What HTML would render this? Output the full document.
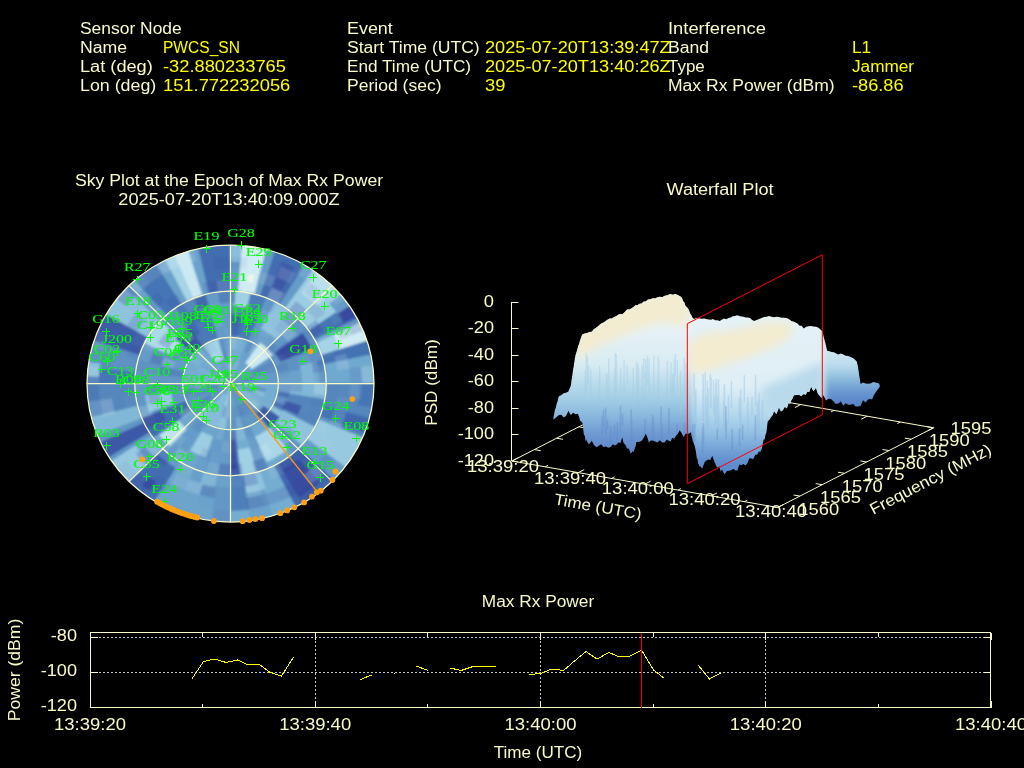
<!DOCTYPE html>
<html><head><meta charset="utf-8"><title>Interference Event</title>
<style>
html,body{margin:0;padding:0;background:#000;width:1024px;height:768px;overflow:hidden}
svg{display:block;opacity:0.999}
.t{font-family:"Liberation Sans",sans-serif;font-size:16px}
.s{font-family:"Liberation Serif",serif;font-size:13.5px}
</style></head><body>
<svg width="1024" height="768" viewBox="0 0 1024 768">
<defs>
<linearGradient id="gvL" gradientUnits="userSpaceOnUse" x1="0" y1="295" x2="0" y2="455">
<stop offset="0" stop-color="#e8f3f6"/><stop offset="0.22" stop-color="#e6f2f6"/><stop offset="0.44" stop-color="#d8ebf3"/><stop offset="0.56" stop-color="#b8daea"/><stop offset="0.66" stop-color="#a0cce4"/><stop offset="0.77" stop-color="#86b4dc"/><stop offset="0.86" stop-color="#6f9bd2"/><stop offset="0.96" stop-color="#6088ca"/>
</linearGradient>
<linearGradient id="gvM" gradientUnits="userSpaceOnUse" x1="0" y1="315" x2="0" y2="470">
<stop offset="0" stop-color="#e4f1f6"/><stop offset="0.45" stop-color="#e0eff6"/><stop offset="0.535" stop-color="#cfe6f2"/><stop offset="0.64" stop-color="#b4d8ec"/><stop offset="0.735" stop-color="#9ac6e5"/><stop offset="0.825" stop-color="#80aedb"/><stop offset="0.905" stop-color="#6a98d2"/><stop offset="0.99" stop-color="#5a88ca"/>
</linearGradient>
<linearGradient id="gvR" gradientUnits="userSpaceOnUse" x1="0" y1="350" x2="0" y2="402">
<stop offset="0" stop-color="#cfe6f1"/><stop offset="0.3" stop-color="#bcdcec"/><stop offset="0.55" stop-color="#8cbcdc"/><stop offset="0.8" stop-color="#6b98d0"/><stop offset="1" stop-color="#5a84c8"/>
</linearGradient>
<filter id="b1" x="-5%" y="-5%" width="110%" height="110%"><feGaussianBlur stdDeviation="1.1"/></filter>
<filter id="b4" x="-20%" y="-20%" width="140%" height="140%"><feGaussianBlur stdDeviation="4"/></filter>
<filter id="b6" x="-20%" y="-20%" width="140%" height="140%"><feGaussianBlur stdDeviation="3"/></filter>
</defs>
<text class="t" x="80.0" y="34.0" text-anchor="start" fill="#fafac8" textLength="101.7" lengthAdjust="spacingAndGlyphs">Sensor Node</text>
<text class="t" x="80.0" y="53.0" text-anchor="start" fill="#fafac8" textLength="47.2" lengthAdjust="spacingAndGlyphs">Name</text>
<text class="t" x="163.0" y="53.0" text-anchor="start" fill="#ffff00" textLength="76.9" lengthAdjust="spacingAndGlyphs">PWCS_SN</text>
<text class="t" x="80.0" y="72.0" text-anchor="start" fill="#fafac8" textLength="72.8" lengthAdjust="spacingAndGlyphs">Lat (deg)</text>
<text class="t" x="163.0" y="72.0" text-anchor="start" fill="#ffff00" textLength="122.9" lengthAdjust="spacingAndGlyphs">-32.880233765</text>
<text class="t" x="80.0" y="91.0" text-anchor="start" fill="#fafac8" textLength="76.3" lengthAdjust="spacingAndGlyphs">Lon (deg)</text>
<text class="t" x="163.0" y="91.0" text-anchor="start" fill="#ffff00" textLength="127.3" lengthAdjust="spacingAndGlyphs">151.772232056</text>
<text class="t" x="347.0" y="34.0" text-anchor="start" fill="#fafac8" textLength="45.8" lengthAdjust="spacingAndGlyphs">Event</text>
<text class="t" x="347.0" y="53.0" text-anchor="start" fill="#fafac8" textLength="132.7" lengthAdjust="spacingAndGlyphs">Start Time (UTC)</text>
<text class="t" x="485.0" y="53.0" text-anchor="start" fill="#ffff00" textLength="185.7" lengthAdjust="spacingAndGlyphs">2025-07-20T13:39:47Z</text>
<text class="t" x="347.0" y="72.0" text-anchor="start" fill="#fafac8" textLength="124.0" lengthAdjust="spacingAndGlyphs">End Time (UTC)</text>
<text class="t" x="485.0" y="72.0" text-anchor="start" fill="#ffff00" textLength="185.7" lengthAdjust="spacingAndGlyphs">2025-07-20T13:40:26Z</text>
<text class="t" x="347.0" y="91.0" text-anchor="start" fill="#fafac8" textLength="94.5" lengthAdjust="spacingAndGlyphs">Period (sec)</text>
<text class="t" x="485.0" y="91.0" text-anchor="start" fill="#ffff00" textLength="20.4" lengthAdjust="spacingAndGlyphs">39</text>
<text class="t" x="668.0" y="34.0" text-anchor="start" fill="#fafac8" textLength="97.9" lengthAdjust="spacingAndGlyphs">Interference</text>
<text class="t" x="668.0" y="53.0" text-anchor="start" fill="#fafac8" textLength="41.1" lengthAdjust="spacingAndGlyphs">Band</text>
<text class="t" x="852.0" y="53.0" text-anchor="start" fill="#ffff00" textLength="19.1" lengthAdjust="spacingAndGlyphs">L1</text>
<text class="t" x="668.0" y="72.0" text-anchor="start" fill="#fafac8" textLength="36.8" lengthAdjust="spacingAndGlyphs">Type</text>
<text class="t" x="852.0" y="72.0" text-anchor="start" fill="#ffff00" textLength="62.1" lengthAdjust="spacingAndGlyphs">Jammer</text>
<text class="t" x="668.0" y="91.0" text-anchor="start" fill="#fafac8" textLength="166.6" lengthAdjust="spacingAndGlyphs">Max Rx Power (dBm)</text>
<text class="t" x="852.0" y="91.0" text-anchor="start" fill="#ffff00" textLength="51.6" lengthAdjust="spacingAndGlyphs">-86.86</text>
<clipPath id="skc"><ellipse cx="230.5" cy="383.5" rx="143.5" ry="138.5"/></clipPath>
<g clip-path="url(#skc)">
<rect x="79.0" y="237.0" width="303.0" height="293.0" fill="#659bc8"/>
<g filter="url(#b1)">
<path fill="#659bc8" d="M230.5,242.2L242.0,242.7L238.0,291.4L230.5,291.1Z"/>
<path fill="#cfebf3" d="M242.0,242.7L254.7,244.2L267.1,246.7L254.5,294.1L246.3,292.4L238.0,291.4Z"/>
<path fill="#659bc8" d="M267.1,246.7L275.7,249.1L260.1,295.6L254.5,294.1Z"/>
<path fill="#436db0" d="M275.7,249.1L286.1,252.8L296.2,257.3L305.9,262.4L279.8,304.3L273.5,300.9L266.9,298.0L260.1,295.6Z"/>
<path fill="#659bc8" d="M305.9,262.4L314.5,267.8L285.4,307.8L279.8,304.3Z"/>
<path fill="#9ccde2" d="M314.5,267.8L322.6,273.7L330.3,280.2L337.5,287.2L344.3,294.6L350.4,302.5L308.9,330.5L304.9,325.4L300.5,320.5L295.8,315.9L290.7,311.7L285.4,307.8Z"/>
<path fill="#4575b4" d="M350.4,302.5L359.7,317.2L315.0,340.1L308.9,330.5Z"/>
<path fill="#74add1" d="M359.7,317.2L362.1,321.6L316.5,343.0L315.0,340.1Z"/>
<path fill="#a4d4e6" d="M362.1,321.6L366.2,330.6L369.7,339.8L321.5,355.0L319.2,348.9L316.5,343.0Z"/>
<path fill="#4472b3" d="M369.7,339.8L373.7,354.1L324.1,364.3L321.5,355.0Z"/>
<path fill="#70a9cf" d="M373.7,354.1L375.4,363.8L376.5,373.6L376.9,383.5L326.2,383.5L326.0,377.1L325.3,370.6L324.1,364.3Z"/>
<path fill="#5487bd" d="M376.9,383.5L376.4,395.0L374.9,406.4L372.5,417.7L323.4,405.8L324.9,398.5L325.9,391.0L326.2,383.5Z"/>
<path fill="#4575b4" d="M372.5,417.7L367.1,434.1L319.9,416.6L323.4,405.8Z"/>
<path fill="#6197c5" d="M367.1,434.1L365.2,438.7L318.6,419.6L319.9,416.6Z"/>
<path fill="#97c9e0" d="M365.2,438.7L360.1,449.1L354.2,459.1L347.4,468.5L306.9,439.1L311.4,432.9L315.3,426.4L318.6,419.6Z"/>
<path fill="#659bc8" d="M347.4,468.5L335.8,481.6L299.4,447.7L306.9,439.1Z"/>
<path fill="#4168ae" d="M335.8,481.6L327.0,489.7L317.6,497.1L307.5,503.6L297.0,509.4L274.0,465.8L280.9,462.1L287.4,457.8L293.6,453.0L299.4,447.7Z"/>
<path fill="#74add1" d="M297.0,509.4L285.3,514.5L273.3,518.6L258.5,471.8L266.4,469.2L274.0,465.8Z"/>
<path fill="#6ba2cb" d="M273.3,518.6L262.2,521.4L250.9,523.4L243.8,475.0L251.2,473.7L258.5,471.8Z"/>
<path fill="#4e80ba" d="M250.9,523.4L240.7,524.4L230.5,524.8L230.5,475.9L237.2,475.7L243.8,475.0Z"/>
<path fill="#6ba2cb" d="M230.5,524.8L217.7,524.2L205.1,522.6L192.6,520.0L205.7,472.7L213.9,474.5L222.2,475.5L230.5,475.9Z"/>
<path fill="#6ca4cc" d="M192.6,520.0L182.2,516.9L172.1,513.1L162.3,508.5L152.9,503.3L179.8,461.8L185.9,465.3L192.3,468.2L198.9,470.7L205.7,472.7Z"/>
<path fill="#659bc8" d="M152.9,503.3L143.8,497.3L135.1,490.7L127.0,483.4L162.8,448.8L168.1,453.6L173.8,457.9L179.8,461.8Z"/>
<path fill="#74add1" d="M127.0,483.4L117.6,473.4L109.2,462.5L151.1,435.2L156.6,442.3L162.8,448.8Z"/>
<path fill="#6197c5" d="M109.2,462.5L106.4,458.4L149.3,432.5L151.1,435.2Z"/>
<path fill="#3c59a6" d="M106.4,458.4L97.8,443.2L143.8,422.5L149.3,432.5Z"/>
<path fill="#6197c5" d="M97.8,443.2L94.8,436.4L141.8,418.1L143.8,422.5Z"/>
<path fill="#81b8d7" d="M94.8,436.4L91.3,427.2L88.5,417.7L137.6,405.8L139.5,412.0L141.8,418.1Z"/>
<path fill="#5487bd" d="M88.5,417.7L86.1,406.4L84.6,395.0L84.1,383.5L134.8,383.5L135.1,391.0L136.1,398.5L137.6,405.8Z"/>
<path fill="#4575b4" d="M84.1,383.5L85.2,366.3L135.5,372.2L134.8,383.5Z"/>
<path fill="#5d92c3" d="M85.2,366.3L87.6,352.9L91.3,339.8L139.5,355.0L137.1,363.5L135.5,372.2Z"/>
<path fill="#3d5ca8" d="M91.3,339.8L94.8,330.6L98.9,321.6L103.7,312.9L147.6,337.3L144.5,343.0L141.8,348.9L139.5,355.0Z"/>
<path fill="#8ec2dd" d="M103.7,312.9L109.6,303.8L116.2,295.2L123.5,287.2L160.5,320.5L155.8,325.8L151.5,331.4L147.6,337.3Z"/>
<path fill="#6ba2cb" d="M123.5,287.2L132.6,278.5L166.5,314.8L160.5,320.5Z"/>
<path fill="#4575b4" d="M132.6,278.5L143.4,269.9L155.1,262.4L181.2,304.3L173.6,309.2L166.5,314.8Z"/>
<path fill="#6ba2cb" d="M155.1,262.4L164.0,257.6L187.0,301.2L181.2,304.3Z"/>
<path fill="#a4d4e6" d="M164.0,257.6L173.3,253.5L193.1,298.5L187.0,301.2Z"/>
<path fill="#cbe9f2" d="M173.3,253.5L187.7,248.4L202.5,295.2L193.1,298.5Z"/>
<path fill="#6ba2cb" d="M187.7,248.4L197.6,245.9L209.0,293.5L202.5,295.2Z"/>
<path fill="#436db0" d="M197.6,245.9L208.4,243.8L219.4,242.6L230.5,242.2L230.5,291.1L223.3,291.4L216.1,292.2L209.0,293.5Z"/>
<path fill="#8abfdb" d="M230.5,242.2L242.0,242.7L240.4,262.0L230.5,261.6Z"/>
<path fill="#3d5ca8" d="M281.6,261.5L294.5,267.3L281.0,291.8L270.8,287.2Z"/>
<path fill="#bae0ed" d="M318.6,270.7L328.4,278.5L337.5,287.2L316.6,306.0L309.2,299.1L301.3,292.8Z"/>
<path fill="#659bc8" d="M342.6,292.7L351.8,304.5L337.6,313.8L329.4,303.4Z"/>
<path fill="#374a9f" d="M351.8,304.5L358.5,315.0L343.5,323.1L337.6,313.8Z"/>
<path fill="#cfebf3" d="M362.1,321.6L366.2,330.6L369.7,339.8L339.7,349.3L336.9,342.0L333.7,334.9Z"/>
<path fill="#eaf7e6" d="M248.5,274.1L254.4,275.1L252.6,283.2L247.1,282.3Z"/>
<path fill="#4575b4" d="M376.9,383.5L376.3,395.8L374.6,408.0L357.7,405.1L359.2,394.4L359.6,383.5Z"/>
<path fill="#394fa1" d="M319.9,482.8L309.7,490.6L298.7,497.4L282.2,469.9L290.5,464.7L298.3,458.8Z"/>
<path fill="#8ec2dd" d="M266.0,488.9L256.3,491.5L246.5,493.2L243.8,475.0L252.0,473.5L260.1,471.4Z"/>
<path fill="#74add1" d="M250.9,523.4L240.7,524.4L230.5,524.8L230.5,510.9L239.7,510.6L248.9,509.7Z"/>
<path fill="#8abfdb" d="M215.3,487.7L207.8,486.5L200.4,484.7L204.1,472.3L210.6,473.9L217.2,475.0Z"/>
<path fill="#436db0" d="M152.9,503.3L143.8,497.3L135.1,490.7L127.0,483.4L157.4,454.0L163.2,459.1L169.3,463.8L175.7,468.1Z"/>
<path fill="#394fa1" d="M149.5,491.1L141.9,485.4L149.3,476.9L156.3,482.1Z"/>
<path fill="#97c9e0" d="M127.0,483.4L117.6,473.4L109.2,462.5L135.3,445.5L141.9,454.0L149.3,461.8Z"/>
<path fill="#8abfdb" d="M84.3,376.1L85.9,361.4L100.1,363.6L98.7,376.8Z"/>
<path fill="#5a8ec1" d="M230.5,291.1L237.2,291.3L243.8,292.0L250.4,293.1L240.4,338.4L237.2,337.8L233.8,337.5L230.5,337.4Z"/>
<path fill="#4b7cb7" d="M250.4,293.1L258.5,295.2L266.4,297.8L248.4,340.7L244.5,339.4L240.4,338.4Z"/>
<path fill="#659bc8" d="M266.4,297.8L275.4,301.9L252.9,342.8L248.4,340.7Z"/>
<path fill="#6ba2cb" d="M275.4,301.9L281.6,305.4L287.4,309.2L293.0,313.5L298.2,318.2L264.3,350.9L261.7,348.6L258.9,346.4L256.0,344.5L252.9,342.8Z"/>
<path fill="#6197c5" d="M298.2,318.2L303.3,323.5L307.9,329.2L269.2,356.4L266.8,353.5L264.3,350.9Z"/>
<path fill="#5d92c3" d="M307.9,329.2L311.7,334.5L315.0,340.1L317.9,345.9L274.2,364.7L272.7,361.8L271.0,359.1L269.2,356.4Z"/>
<path fill="#5d92c3" d="M317.9,345.9L320.4,351.9L322.5,358.0L324.1,364.3L277.2,373.9L276.4,370.8L275.4,367.7L274.2,364.7Z"/>
<path fill="#6ba2cb" d="M324.1,364.3L325.3,370.6L326.0,377.1L326.2,383.5L278.3,383.5L278.2,380.3L277.8,377.1L277.2,373.9Z"/>
<path fill="#81b8d7" d="M326.2,383.5L325.9,391.6L324.8,399.5L277.6,391.5L278.1,387.5L278.3,383.5Z"/>
<path fill="#5285bc" d="M324.8,399.5L323.2,406.6L321.0,413.6L318.3,420.3L315.0,426.9L272.7,405.2L274.3,401.9L275.7,398.5L276.8,395.0L277.6,391.5Z"/>
<path fill="#8ec2dd" d="M315.0,426.9L311.1,433.4L306.6,439.5L301.6,445.3L266.0,414.4L268.5,411.5L270.7,408.4L272.7,405.2Z"/>
<path fill="#6197c5" d="M301.6,445.3L297.0,450.0L292.0,454.3L261.2,418.8L263.7,416.7L266.0,414.4Z"/>
<path fill="#70a9cf" d="M292.0,454.3L286.8,458.2L281.2,461.8L275.4,465.1L269.4,467.9L249.9,425.6L252.9,424.2L255.8,422.6L258.6,420.8L261.2,418.8Z"/>
<path fill="#6197c5" d="M269.4,467.9L263.2,470.3L256.9,472.3L243.7,427.8L246.8,426.8L249.9,425.6Z"/>
<path fill="#74add1" d="M256.9,472.3L248.8,474.2L240.5,475.4L235.5,429.4L239.6,428.8L243.7,427.8Z"/>
<path fill="#4168ae" d="M240.5,475.4L230.5,475.9L230.5,429.6L235.5,429.4Z"/>
<path fill="#659bc8" d="M230.5,475.9L223.8,475.7L217.2,475.0L210.6,473.9L204.1,472.3L217.3,427.8L220.6,428.6L223.8,429.2L227.2,429.5L230.5,429.6Z"/>
<path fill="#6ca4cc" d="M204.1,472.3L197.8,470.3L191.6,467.9L185.6,465.1L179.8,461.8L205.2,422.6L208.1,424.2L211.1,425.6L214.2,426.8L217.3,427.8Z"/>
<path fill="#659bc8" d="M179.8,461.8L172.9,457.3L166.5,452.2L198.5,417.8L201.7,420.3L205.2,422.6Z"/>
<path fill="#70a9cf" d="M166.5,452.2L161.6,447.7L157.2,442.9L153.1,437.8L191.8,410.6L193.9,413.1L196.1,415.5L198.5,417.8Z"/>
<path fill="#436db0" d="M153.1,437.8L148.7,431.5L145.0,425.0L141.8,418.1L186.2,400.8L187.8,404.2L189.7,407.5L191.8,410.6Z"/>
<path fill="#6197c5" d="M141.8,418.1L139.1,411.0L137.1,403.8L135.7,396.4L183.2,389.9L183.9,393.6L184.9,397.2L186.2,400.8Z"/>
<path fill="#6197c5" d="M135.7,396.4L135.0,389.0L134.8,381.6L135.3,374.2L136.4,366.8L138.0,359.6L184.3,371.6L183.5,375.2L183.0,378.8L182.7,382.5L182.8,386.2L183.2,389.9Z"/>
<path fill="#659bc8" d="M138.0,359.6L140.1,353.2L142.6,346.9L145.6,340.8L149.0,335.0L152.9,329.4L157.2,324.1L193.9,353.9L191.8,356.5L189.8,359.3L188.1,362.2L186.6,365.2L185.4,368.4L184.3,371.6Z"/>
<path fill="#6197c5" d="M157.2,324.1L162.8,318.2L169.0,312.7L175.6,307.8L203.1,345.7L199.8,348.2L196.7,350.9L193.9,353.9Z"/>
<path fill="#4979b6" d="M175.6,307.8L181.2,304.3L187.0,301.2L193.1,298.5L199.3,296.2L205.7,294.3L218.1,339.0L214.9,339.9L211.8,341.0L208.8,342.4L205.9,344.0L203.1,345.7Z"/>
<path fill="#659bc8" d="M205.7,294.3L213.9,292.5L222.2,291.5L230.5,291.1L230.5,337.4L226.3,337.6L222.2,338.1L218.1,339.0Z"/>
<path fill="#4575b4" d="M230.5,305.9L236.1,306.1L241.7,306.7L247.2,307.6L240.9,336.1L237.5,335.5L234.0,335.1L230.5,335.0Z"/>
<path fill="#a0d0e4" d="M235.5,291.2L243.0,291.9L250.4,293.1L247.2,307.6L241.0,306.6L234.7,306.0Z"/>
<path fill="#8ec2dd" d="M275.4,301.9L281.6,305.4L287.4,309.2L293.0,313.5L298.2,318.2L276.2,339.4L272.7,336.3L268.9,333.4L265.0,330.8L260.8,328.5Z"/>
<path fill="#394fa1" d="M302.5,333.0L306.0,338.0L309.1,343.2L311.8,348.6L280.3,362.1L278.6,358.8L276.7,355.6L274.6,352.6Z"/>
<path fill="#7fb6d6" d="M316.4,361.3L318.1,368.6L319.1,376.0L319.5,383.5L302.2,383.5L302.0,377.5L301.2,371.5L299.8,365.6Z"/>
<path fill="#3c59a6" d="M301.5,405.8L299.7,410.5L297.6,415.1L282.1,407.8L283.7,404.3L285.1,400.6Z"/>
<path fill="#abd9e9" d="M144.5,343.0L147.8,337.0L151.6,331.2L155.9,325.7L160.5,320.5L183.3,341.0L180.1,344.5L177.3,348.2L174.7,352.1L172.5,356.2Z"/>
<path fill="#a9d7e8" d="M287.7,449.3L282.8,453.0L277.6,456.3L272.3,459.3L266.7,461.9L255.0,436.6L258.8,434.9L262.4,432.8L265.9,430.6L269.2,428.1Z"/>
<path fill="#a0d0e4" d="M256.9,472.3L248.8,474.2L240.5,475.4L237.7,449.6L243.6,448.8L249.5,447.4Z"/>
<path fill="#394fa1" d="M236.7,469.2L230.5,469.4L230.5,438.9L234.5,438.8Z"/>
<path fill="#9ccde2" d="M205.7,457.3L200.4,455.4L195.3,453.2L190.3,450.7L201.8,431.5L205.3,433.3L209.0,434.9L212.8,436.2Z"/>
<path fill="#c0e3ef" d="M169.8,446.3L164.4,441.0L159.4,435.2L178.9,421.0L182.5,425.2L186.5,429.1Z"/>
<path fill="#3b54a4" d="M147.6,429.7L144.5,424.0L141.8,418.1L161.3,410.5L163.4,415.1L165.9,419.5Z"/>
<path fill="#97c9e0" d="M149.6,411.9L147.7,406.4L146.3,400.8L145.2,395.1L170.8,391.6L171.5,395.6L172.6,399.5L173.9,403.4Z"/>
<path fill="#3d5ca8" d="M175.5,339.0L179.8,334.5L184.4,330.5L189.3,326.8L203.1,345.7L199.8,348.2L196.7,350.9L193.9,353.9Z"/>
<path fill="#6ba2cb" d="M230.5,337.4L233.8,337.5L237.2,337.8L240.4,338.4L243.7,339.2L246.8,340.2L249.9,341.4L252.9,342.8L255.8,344.4L258.6,346.2L261.2,348.2L263.7,350.3L266.0,352.6L268.2,355.1L270.1,357.7L271.9,360.4L273.4,363.3L274.8,366.2L275.9,369.2L276.9,372.3L277.6,375.5L278.0,378.7L278.3,381.9L278.3,385.1L278.0,388.3L277.6,391.5L276.9,394.7L275.9,397.8L274.8,400.8L273.4,403.7L271.9,406.6L270.1,409.3L268.2,411.9L266.0,414.4L263.7,416.7L261.2,418.8L258.6,420.8L255.8,422.6L252.9,424.2L249.9,425.6L246.8,426.8L243.7,427.8L240.4,428.6L237.2,429.2L233.8,429.5L230.5,429.6L227.2,429.5L223.8,429.2L220.6,428.6L217.3,427.8L214.2,426.8L211.1,425.6L208.1,424.2L205.2,422.6L202.4,420.8L199.8,418.8L197.3,416.7L195.0,414.4L192.8,411.9L190.9,409.3L189.1,406.6L187.6,403.7L186.2,400.8L185.1,397.8L184.1,394.7L183.4,391.5L183.0,388.3L182.7,385.1L182.7,381.9L183.0,378.7L183.4,375.5L184.1,372.3L185.1,369.2L186.2,366.2L187.6,363.3L189.1,360.4L190.9,357.7L192.8,355.1L195.0,352.6L197.3,350.3L199.8,348.2L202.4,346.2L205.2,344.4L208.1,342.8L211.1,341.4L214.2,340.2L217.3,339.2L220.6,338.4L223.8,337.8L227.2,337.5L230.5,337.4L230.5,383.5Z"/>
<path fill="#74add1" d="M230.5,337.4L233.8,337.5L237.2,337.8L240.4,338.4L243.7,339.2L246.8,340.2L230.5,383.5Z"/>
<path fill="#659bc8" d="M269.6,357.0L271.6,360.0L273.4,363.1L274.8,366.3L276.1,369.6L277.0,373.0L277.7,376.5L278.1,380.0L278.3,383.5L230.5,383.5Z"/>
<path fill="#74add1" d="M278.3,383.5L278.2,386.8L277.8,390.1L277.2,393.3L276.3,396.5L275.3,399.6L274.0,402.7L272.4,405.6L270.7,408.4L268.8,411.1L266.6,413.7L264.3,416.1L230.5,383.5Z"/>
<path fill="#6197c5" d="M261.2,418.8L258.3,421.0L255.3,422.9L252.1,424.6L248.8,426.1L245.4,427.3L241.9,428.3L238.3,429.0L234.7,429.4L230.5,383.5Z"/>
<path fill="#86bbd9" d="M226.3,429.4L223.0,429.1L219.8,428.4L216.5,427.6L213.4,426.6L210.3,425.3L207.3,423.8L204.5,422.2L201.7,420.3L199.1,418.3L196.7,416.1L230.5,383.5Z"/>
<path fill="#6197c5" d="M196.7,416.1L194.4,413.7L192.2,411.1L190.3,408.4L188.6,405.6L187.0,402.7L185.7,399.6L184.7,396.5L183.8,393.3L183.2,390.1L182.8,386.8L182.7,383.5L230.5,383.5Z"/>
<path fill="#74add1" d="M182.7,383.5L182.8,380.1L183.2,376.8L183.8,373.5L184.7,370.3L185.8,367.1L187.2,364.0L188.8,361.0L190.6,358.2L192.6,355.4L194.8,352.8L197.2,350.4L199.8,348.2L230.5,383.5Z"/>
<path fill="#cbe9f2" d="M260.1,342.7L263.0,344.8L265.7,347.0L268.3,349.5L270.6,352.1L272.8,354.9L251.7,369.2L250.6,367.8L249.4,366.5L248.1,365.3L246.8,364.1L245.3,363.1Z"/>
<path fill="#3d5ca8" d="M279.9,416.9L276.7,420.9L273.1,424.6L269.2,428.1L256.3,413.2L258.9,410.9L261.3,408.4L263.4,405.7Z"/>
<path fill="#a4d4e6" d="M203.1,345.7L205.9,344.0L208.8,342.4L211.8,341.0L214.9,339.9L218.1,339.0L223.8,359.4L222.1,359.9L220.4,360.6L218.8,361.3L217.2,362.1L215.7,363.1Z"/>
<path fill="#2f3a98" fill-opacity="0.01" d="M230.5,383.5L232.1,372.1L232.8,372.2L233.6,372.4L230.5,383.5L230.5,383.5Z"/>
<path fill="#dff2f8" fill-opacity="0.02" d="M230.5,383.5L236.5,373.5L237.1,373.9L237.8,374.3L230.5,383.5L230.5,383.5Z"/>
<path fill="#2f3a98" fill-opacity="0.05" d="M230.5,383.5L239.0,375.3L239.5,375.9L240.0,376.5L230.5,383.5L230.5,383.5Z"/>
<path fill="#2f3a98" fill-opacity="0.16" d="M230.5,383.5L242.1,380.5L242.2,381.2L242.4,382.0L230.5,383.5L230.5,383.5Z"/>
<path fill="#2f3a98" fill-opacity="0.26" d="M230.5,383.5L242.5,383.5L242.4,384.3L242.4,385.0L230.5,383.5L230.5,383.5Z"/>
<path fill="#2f3a98" fill-opacity="0.06" d="M230.5,383.5L242.4,385.0L242.2,385.8L242.1,386.5L230.5,383.5L230.5,383.5Z"/>
<path fill="#2f3a98" fill-opacity="0.18" d="M230.5,383.5L232.1,394.9L231.3,395.0L230.5,395.0L230.5,383.5L230.5,383.5Z"/>
<path fill="#dff2f8" fill-opacity="0.05" d="M230.5,383.5L230.5,395.0L229.7,395.0L228.9,394.9L230.5,383.5L230.5,383.5Z"/>
<path fill="#dff2f8" fill-opacity="0.06" d="M230.5,383.5L228.9,394.9L228.2,394.8L227.4,394.6L230.5,383.5L230.5,383.5Z"/>
<path fill="#2f3a98" fill-opacity="0.27" d="M230.5,383.5L225.9,394.2L225.2,393.9L224.5,393.5L230.5,383.5L230.5,383.5Z"/>
<path fill="#2f3a98" fill-opacity="0.17" d="M230.5,383.5L224.5,393.5L223.9,393.1L223.2,392.7L230.5,383.5L230.5,383.5Z"/>
<path fill="#dff2f8" fill-opacity="0.12" d="M230.5,383.5L219.5,387.9L219.2,387.2L218.9,386.5L230.5,383.5L230.5,383.5Z"/>
<path fill="#dff2f8" fill-opacity="0.16" d="M230.5,383.5L218.9,386.5L218.8,385.8L218.6,385.0L230.5,383.5L230.5,383.5Z"/>
<path fill="#2f3a98" fill-opacity="0.24" d="M230.5,383.5L218.6,385.0L218.6,384.3L218.5,383.5L230.5,383.5L230.5,383.5Z"/>
<path fill="#dff2f8" fill-opacity="0.20" d="M230.5,383.5L218.9,380.5L219.2,379.8L219.5,379.1L230.5,383.5L230.5,383.5Z"/>
<path fill="#dff2f8" fill-opacity="0.24" d="M230.5,383.5L219.5,379.1L219.8,378.4L220.1,377.7L230.5,383.5L230.5,383.5Z"/>
<path fill="#2f3a98" fill-opacity="0.05" d="M230.5,383.5L221.0,376.5L221.5,375.9L222.0,375.3L230.5,383.5L230.5,383.5Z"/>
<path fill="#2f3a98" fill-opacity="0.25" d="M230.5,383.5L225.9,372.8L226.7,372.6L227.4,372.4L230.5,383.5L230.5,383.5Z"/>
<path fill="#dff2f8" fill-opacity="0.14" d="M233.6,372.4L236.7,361.2L238.2,361.6L239.7,362.2L235.1,372.8L234.3,372.6Z"/>
<path fill="#dff2f8" fill-opacity="0.01" d="M235.1,372.8L239.7,362.2L241.1,362.8L242.5,363.5L236.5,373.5L235.8,373.1Z"/>
<path fill="#dff2f8" fill-opacity="0.10" d="M237.8,374.3L245.1,365.2L246.3,366.1L247.4,367.2L239.0,375.3L238.4,374.8Z"/>
<path fill="#dff2f8" fill-opacity="0.05" d="M239.0,375.3L247.4,367.2L248.5,368.3L249.5,369.4L240.0,376.5L239.5,375.9Z"/>
<path fill="#2f3a98" fill-opacity="0.25" d="M242.1,380.5L253.6,377.5L254.0,379.0L254.2,380.5L242.4,382.0L242.2,381.2Z"/>
<path fill="#dff2f8" fill-opacity="0.18" d="M242.5,383.5L254.4,383.5L254.4,385.0L254.2,386.5L242.4,385.0L242.4,384.3Z"/>
<path fill="#2f3a98" fill-opacity="0.18" d="M242.1,386.5L253.6,389.5L253.1,390.9L252.6,392.3L241.5,387.9L241.8,387.2Z"/>
<path fill="#dff2f8" fill-opacity="0.24" d="M240.9,389.3L251.2,395.0L250.4,396.3L249.5,397.6L240.0,390.5L240.4,389.9Z"/>
<path fill="#dff2f8" fill-opacity="0.12" d="M239.0,391.7L247.4,399.8L246.3,400.9L245.1,401.8L237.8,392.7L238.4,392.2Z"/>
<path fill="#dff2f8" fill-opacity="0.02" d="M233.6,394.6L236.7,405.8L235.2,406.1L233.6,406.4L232.1,394.9L232.8,394.8Z"/>
<path fill="#dff2f8" fill-opacity="0.03" d="M232.1,394.9L233.6,406.4L232.1,406.5L230.5,406.6L230.5,395.0L231.3,395.0Z"/>
<path fill="#dff2f8" fill-opacity="0.23" d="M228.9,394.9L227.4,406.4L225.8,406.1L224.3,405.8L227.4,394.6L228.2,394.8Z"/>
<path fill="#2f3a98" fill-opacity="0.01" d="M227.4,394.6L224.3,405.8L222.8,405.4L221.3,404.8L225.9,394.2L226.7,394.4Z"/>
<path fill="#2f3a98" fill-opacity="0.22" d="M223.2,392.7L215.9,401.8L214.7,400.9L213.6,399.8L222.0,391.7L222.6,392.2Z"/>
<path fill="#2f3a98" fill-opacity="0.11" d="M220.1,389.3L209.8,395.0L209.0,393.7L208.4,392.3L219.5,387.9L219.8,388.6Z"/>
<path fill="#2f3a98" fill-opacity="0.24" d="M218.9,386.5L207.4,389.5L207.0,388.0L206.8,386.5L218.6,385.0L218.8,385.8Z"/>
<path fill="#dff2f8" fill-opacity="0.03" d="M218.6,385.0L206.8,386.5L206.6,385.0L206.6,383.5L218.5,383.5L218.6,384.3Z"/>
<path fill="#dff2f8" fill-opacity="0.23" d="M218.9,380.5L207.4,377.5L207.9,376.1L208.4,374.7L219.5,379.1L219.2,379.8Z"/>
<path fill="#dff2f8" fill-opacity="0.09" d="M219.5,379.1L208.4,374.7L209.0,373.3L209.8,372.0L220.1,377.7L219.8,378.4Z"/>
<path fill="#2f3a98" fill-opacity="0.16" d="M220.1,377.7L209.8,372.0L210.6,370.7L211.5,369.4L221.0,376.5L220.6,377.1Z"/>
<path fill="#dff2f8" fill-opacity="0.09" d="M223.2,374.3L215.9,365.2L217.2,364.3L218.5,363.5L224.5,373.5L223.9,373.9Z"/>
<path fill="#2f3a98" fill-opacity="0.01" d="M225.9,372.8L221.3,362.2L222.8,361.6L224.3,361.2L227.4,372.4L226.7,372.6Z"/>
<path fill="#dff2f8" fill-opacity="0.04" d="M227.4,372.4L224.3,361.2L225.8,360.9L227.4,360.6L228.9,372.1L228.2,372.2Z"/>
<path fill="#dff2f8" fill-opacity="0.20" d="M228.9,372.1L227.4,360.6L228.9,360.5L230.5,360.4L230.5,372.0L229.7,372.0Z"/>
<path fill="#dff2f8" fill-opacity="0.01" d="M247.4,367.2L255.9,359.0L257.5,360.7L259.0,362.4L249.5,369.4L248.5,368.3Z"/>
<path fill="#2f3a98" fill-opacity="0.20" d="M251.2,372.0L261.6,366.2L262.7,368.2L263.6,370.2L252.6,374.7L252.0,373.3Z"/>
<path fill="#2f3a98" fill-opacity="0.06" d="M252.6,374.7L263.6,370.2L264.5,372.4L265.2,374.5L253.6,377.5L253.1,376.1Z"/>
<path fill="#dff2f8" fill-opacity="0.02" d="M253.6,377.5L265.2,374.5L265.7,376.7L266.1,379.0L254.2,380.5L254.0,379.0Z"/>
<path fill="#2f3a98" fill-opacity="0.22" d="M254.2,386.5L266.1,388.0L265.7,390.3L265.2,392.5L253.6,389.5L254.0,388.0Z"/>
<path fill="#dff2f8" fill-opacity="0.23" d="M253.6,389.5L265.2,392.5L264.5,394.6L263.6,396.8L252.6,392.3L253.1,390.9Z"/>
<path fill="#dff2f8" fill-opacity="0.05" d="M252.6,392.3L263.6,396.8L262.7,398.8L261.6,400.8L251.2,395.0L252.0,393.7Z"/>
<path fill="#dff2f8" fill-opacity="0.10" d="M251.2,395.0L261.6,400.8L260.3,402.7L259.0,404.6L249.5,397.6L250.4,396.3Z"/>
<path fill="#dff2f8" fill-opacity="0.25" d="M249.5,397.6L259.0,404.6L257.5,406.3L255.9,408.0L247.4,399.8L248.5,398.7Z"/>
<path fill="#2f3a98" fill-opacity="0.11" d="M245.1,401.8L252.3,411.0L250.4,412.3L248.4,413.5L242.5,403.5L243.8,402.7Z"/>
<path fill="#2f3a98" fill-opacity="0.11" d="M242.5,403.5L248.4,413.5L246.4,414.6L244.2,415.5L239.7,404.8L241.1,404.2Z"/>
<path fill="#2f3a98" fill-opacity="0.15" d="M239.7,404.8L244.2,415.5L242.0,416.3L239.8,416.9L236.7,405.8L238.2,405.4Z"/>
<path fill="#2f3a98" fill-opacity="0.08" d="M233.6,406.4L235.2,417.8L232.8,418.1L230.5,418.1L230.5,406.6L232.1,406.5Z"/>
<path fill="#dff2f8" fill-opacity="0.18" d="M230.5,406.6L230.5,418.1L228.2,418.1L225.8,417.8L227.4,406.4L228.9,406.5Z"/>
<path fill="#2f3a98" fill-opacity="0.14" d="M227.4,406.4L225.8,417.8L223.5,417.5L221.2,416.9L224.3,405.8L225.8,406.1Z"/>
<path fill="#2f3a98" fill-opacity="0.01" d="M224.3,405.8L221.2,416.9L219.0,416.3L216.8,415.5L221.3,404.8L222.8,405.4Z"/>
<path fill="#2f3a98" fill-opacity="0.02" d="M218.5,403.5L212.6,413.5L210.6,412.3L208.7,411.0L215.9,401.8L217.2,402.7Z"/>
<path fill="#2f3a98" fill-opacity="0.05" d="M213.6,399.8L205.1,408.0L203.5,406.3L202.0,404.6L211.5,397.6L212.5,398.7Z"/>
<path fill="#2f3a98" fill-opacity="0.20" d="M211.5,397.6L202.0,404.6L200.7,402.7L199.4,400.8L209.8,395.0L210.6,396.3Z"/>
<path fill="#2f3a98" fill-opacity="0.11" d="M208.4,392.3L197.4,396.8L196.5,394.6L195.8,392.5L207.4,389.5L207.9,390.9Z"/>
<path fill="#dff2f8" fill-opacity="0.16" d="M206.8,386.5L194.9,388.0L194.7,385.8L194.6,383.5L206.6,383.5L206.6,385.0Z"/>
<path fill="#dff2f8" fill-opacity="0.11" d="M206.6,383.5L194.6,383.5L194.7,381.2L194.9,379.0L206.8,380.5L206.6,382.0Z"/>
<path fill="#dff2f8" fill-opacity="0.03" d="M206.8,380.5L194.9,379.0L195.3,376.7L195.8,374.5L207.4,377.5L207.0,379.0Z"/>
<path fill="#dff2f8" fill-opacity="0.08" d="M208.4,374.7L197.4,370.2L198.3,368.2L199.4,366.2L209.8,372.0L209.0,373.3Z"/>
<path fill="#2f3a98" fill-opacity="0.04" d="M209.8,372.0L199.4,366.2L200.7,364.3L202.0,362.4L211.5,369.4L210.6,370.7Z"/>
<path fill="#dff2f8" fill-opacity="0.07" d="M218.5,363.5L212.6,353.5L214.6,352.4L216.8,351.5L221.3,362.2L219.9,362.8Z"/>
<path fill="#2f3a98" fill-opacity="0.21" d="M224.3,361.2L221.2,350.1L223.5,349.5L225.8,349.2L227.4,360.6L225.8,360.9Z"/>
<path fill="#dff2f8" fill-opacity="0.19" d="M230.5,348.9L230.5,337.3L233.6,337.4L236.7,337.7L235.2,349.2L232.8,348.9Z"/>
<path fill="#dff2f8" fill-opacity="0.06" d="M235.2,349.2L236.7,337.7L239.8,338.2L242.9,338.9L239.8,350.1L237.5,349.5Z"/>
<path fill="#2f3a98" fill-opacity="0.15" d="M244.2,351.5L248.8,340.8L251.7,342.1L254.4,343.5L248.4,353.5L246.4,352.4Z"/>
<path fill="#dff2f8" fill-opacity="0.18" d="M248.4,353.5L254.4,343.5L257.1,345.1L259.6,346.9L252.3,356.0L250.4,354.7Z"/>
<path fill="#dff2f8" fill-opacity="0.02" d="M252.3,356.0L259.6,346.9L262.0,348.8L264.3,350.9L255.9,359.0L254.2,357.5Z"/>
<path fill="#2f3a98" fill-opacity="0.17" d="M261.6,366.2L271.9,360.4L273.4,363.1L274.7,365.8L263.6,370.2L262.7,368.2Z"/>
<path fill="#2f3a98" fill-opacity="0.10" d="M263.6,370.2L274.7,365.8L275.8,368.7L276.7,371.6L265.2,374.5L264.5,372.4Z"/>
<path fill="#dff2f8" fill-opacity="0.04" d="M261.6,400.8L271.9,406.6L270.3,409.1L268.4,411.6L259.0,404.6L260.3,402.7Z"/>
<path fill="#2f3a98" fill-opacity="0.17" d="M255.9,408.0L264.3,416.1L262.0,418.2L259.6,420.1L252.3,411.0L254.2,409.5Z"/>
<path fill="#dff2f8" fill-opacity="0.18" d="M239.8,416.9L242.9,428.1L239.8,428.8L236.7,429.3L235.2,417.8L237.5,417.5Z"/>
<path fill="#2f3a98" fill-opacity="0.10" d="M235.2,417.8L236.7,429.3L233.6,429.6L230.5,429.7L230.5,418.1L232.8,418.1Z"/>
<path fill="#dff2f8" fill-opacity="0.13" d="M225.8,417.8L224.3,429.3L221.2,428.8L218.1,428.1L221.2,416.9L223.5,417.5Z"/>
<path fill="#dff2f8" fill-opacity="0.15" d="M208.7,411.0L201.4,420.1L199.0,418.2L196.7,416.1L205.1,408.0L206.8,409.5Z"/>
<path fill="#dff2f8" fill-opacity="0.04" d="M199.4,400.8L189.1,406.6L187.6,403.9L186.3,401.2L197.4,396.8L198.3,398.8Z"/>
<path fill="#2f3a98" fill-opacity="0.05" d="M197.4,396.8L186.3,401.2L185.2,398.3L184.3,395.4L195.8,392.5L196.5,394.6Z"/>
<path fill="#2f3a98" fill-opacity="0.15" d="M195.8,392.5L184.3,395.4L183.6,392.5L183.1,389.5L194.9,388.0L195.3,390.3Z"/>
<path fill="#dff2f8" fill-opacity="0.07" d="M194.9,388.0L183.1,389.5L182.8,386.5L182.7,383.5L194.6,383.5L194.7,385.8Z"/>
<path fill="#dff2f8" fill-opacity="0.09" d="M199.4,366.2L189.1,360.4L190.7,357.9L192.6,355.4L202.0,362.4L200.7,364.3Z"/>
<path fill="#2f3a98" fill-opacity="0.09" d="M208.7,356.0L201.4,346.9L203.9,345.1L206.6,343.5L212.6,353.5L210.6,354.7Z"/>
<path fill="#2f3a98" fill-opacity="0.04" d="M212.6,353.5L206.6,343.5L209.3,342.1L212.2,340.8L216.8,351.5L214.6,352.4Z"/>
<path fill="#2f3a98" fill-opacity="0.15" d="M221.2,350.1L218.1,338.9L221.2,338.2L224.3,337.7L225.8,349.2L223.5,349.5Z"/>
<path fill="#2f3a98" fill-opacity="0.23" d="M230.5,337.3L230.5,325.8L234.4,325.9L238.3,326.3L236.7,337.7L233.6,337.4Z"/>
<path fill="#2f3a98" fill-opacity="0.05" d="M248.8,340.8L253.4,330.2L256.9,331.7L260.4,333.5L254.4,343.5L251.7,342.1Z"/>
<path fill="#2f3a98" fill-opacity="0.01" d="M259.6,346.9L266.9,337.7L269.9,340.1L272.8,342.7L264.3,350.9L262.0,348.8Z"/>
<path fill="#2f3a98" fill-opacity="0.15" d="M264.3,350.9L272.8,342.7L275.5,345.5L277.9,348.4L268.4,355.4L266.5,353.1Z"/>
<path fill="#dff2f8" fill-opacity="0.06" d="M271.9,360.4L282.3,354.6L284.1,358.0L285.7,361.4L274.7,365.8L273.4,363.1Z"/>
<path fill="#2f3a98" fill-opacity="0.10" d="M274.7,365.8L285.7,361.4L287.1,365.0L288.3,368.6L276.7,371.6L275.8,368.7Z"/>
<path fill="#2f3a98" fill-opacity="0.05" d="M276.7,371.6L288.3,368.6L289.1,372.2L289.8,376.0L277.9,377.5L277.4,374.5Z"/>
<path fill="#2f3a98" fill-opacity="0.21" d="M278.3,383.5L290.3,383.5L290.2,387.3L289.8,391.0L277.9,389.5L278.2,386.5Z"/>
<path fill="#2f3a98" fill-opacity="0.26" d="M277.9,389.5L289.8,391.0L289.1,394.8L288.3,398.4L276.7,395.4L277.4,392.5Z"/>
<path fill="#dff2f8" fill-opacity="0.13" d="M276.7,395.4L288.3,398.4L287.1,402.0L285.7,405.6L274.7,401.2L275.8,398.3Z"/>
<path fill="#2f3a98" fill-opacity="0.22" d="M274.7,401.2L285.7,405.6L284.1,409.0L282.3,412.4L271.9,406.6L273.4,403.9Z"/>
<path fill="#2f3a98" fill-opacity="0.00" d="M259.6,420.1L266.9,429.3L263.7,431.5L260.4,433.5L254.4,423.5L257.1,421.9Z"/>
<path fill="#dff2f8" fill-opacity="0.14" d="M242.9,428.1L246.0,439.2L242.2,440.1L238.3,440.7L236.7,429.3L239.8,428.8Z"/>
<path fill="#dff2f8" fill-opacity="0.14" d="M236.7,429.3L238.3,440.7L234.4,441.1L230.5,441.2L230.5,429.7L233.6,429.6Z"/>
<path fill="#dff2f8" fill-opacity="0.13" d="M224.3,429.3L222.7,440.7L218.8,440.1L215.0,439.2L218.1,428.1L221.2,428.8Z"/>
<path fill="#2f3a98" fill-opacity="0.10" d="M206.6,423.5L200.6,433.5L197.3,431.5L194.1,429.3L201.4,420.1L203.9,421.9Z"/>
<path fill="#2f3a98" fill-opacity="0.08" d="M201.4,420.1L194.1,429.3L191.1,426.9L188.2,424.3L196.7,416.1L199.0,418.2Z"/>
<path fill="#dff2f8" fill-opacity="0.22" d="M192.6,411.6L183.1,418.6L180.8,415.6L178.7,412.4L189.1,406.6L190.7,409.1Z"/>
<path fill="#2f3a98" fill-opacity="0.11" d="M183.1,389.5L171.2,391.0L170.8,387.3L170.7,383.5L182.7,383.5L182.8,386.5Z"/>
<path fill="#2f3a98" fill-opacity="0.18" d="M183.1,377.5L171.2,376.0L171.9,372.2L172.7,368.6L184.3,371.6L183.6,374.5Z"/>
<path fill="#2f3a98" fill-opacity="0.18" d="M189.1,360.4L178.7,354.6L180.8,351.4L183.1,348.4L192.6,355.4L190.7,357.9Z"/>
<path fill="#2f3a98" fill-opacity="0.18" d="M196.7,350.9L188.2,342.7L191.1,340.1L194.1,337.7L201.4,346.9L199.0,348.8Z"/>
<path fill="#dff2f8" fill-opacity="0.01" d="M206.6,343.5L200.6,333.5L204.1,331.7L207.6,330.2L212.2,340.8L209.3,342.1Z"/>
<path fill="#dff2f8" fill-opacity="0.03" d="M224.3,337.7L222.7,326.3L226.6,325.9L230.5,325.8L230.5,337.3L227.4,337.4Z"/>
<path fill="#2f3a98" fill-opacity="0.25" d="M230.5,325.8L230.5,314.2L235.2,314.4L239.9,314.8L238.3,326.3L234.4,325.9Z"/>
<path fill="#2f3a98" fill-opacity="0.15" d="M246.0,327.8L249.1,316.6L253.6,317.9L258.0,319.5L253.4,330.2L249.7,328.9Z"/>
<path fill="#dff2f8" fill-opacity="0.08" d="M260.4,333.5L266.4,323.5L270.4,325.9L274.2,328.6L266.9,337.7L263.7,335.5Z"/>
<path fill="#2f3a98" fill-opacity="0.24" d="M277.9,348.4L287.4,341.3L290.2,345.0L292.6,348.9L282.3,354.6L280.2,351.4Z"/>
<path fill="#2f3a98" fill-opacity="0.16" d="M290.3,383.5L302.2,383.5L302.1,388.0L301.6,392.5L289.8,391.0L290.2,387.3Z"/>
<path fill="#2f3a98" fill-opacity="0.04" d="M282.3,412.4L292.6,418.1L290.2,422.0L287.4,425.7L277.9,418.6L280.2,415.6Z"/>
<path fill="#dff2f8" fill-opacity="0.13" d="M272.8,424.3L281.2,432.5L277.8,435.6L274.2,438.4L266.9,429.3L269.9,426.9Z"/>
<path fill="#dff2f8" fill-opacity="0.08" d="M253.4,436.8L258.0,447.5L253.6,449.1L249.1,450.4L246.0,439.2L249.7,438.1Z"/>
<path fill="#dff2f8" fill-opacity="0.04" d="M238.3,440.7L239.9,452.2L235.2,452.6L230.5,452.8L230.5,441.2L234.4,441.1Z"/>
<path fill="#dff2f8" fill-opacity="0.10" d="M230.5,441.2L230.5,452.8L225.8,452.6L221.1,452.2L222.7,440.7L226.6,441.1Z"/>
<path fill="#2f3a98" fill-opacity="0.05" d="M171.2,391.0L159.4,392.5L158.9,388.0L158.8,383.5L170.7,383.5L170.8,387.3Z"/>
<path fill="#2f3a98" fill-opacity="0.18" d="M171.2,376.0L159.4,374.5L160.1,370.0L161.2,365.6L172.7,368.6L171.9,372.2Z"/>
<path fill="#dff2f8" fill-opacity="0.17" d="M172.7,368.6L161.2,365.6L162.6,361.2L164.2,357.0L175.3,361.4L173.9,365.0Z"/>
<path fill="#2f3a98" fill-opacity="0.11" d="M175.3,361.4L164.2,357.0L166.1,352.9L168.4,348.9L178.7,354.6L176.9,358.0Z"/>
<path fill="#dff2f8" fill-opacity="0.19" d="M178.7,354.6L168.4,348.9L170.8,345.0L173.6,341.3L183.1,348.4L180.8,351.4Z"/>
<path fill="#dff2f8" fill-opacity="0.21" d="M188.2,342.7L179.8,334.5L183.2,331.4L186.8,328.6L194.1,337.7L191.1,340.1Z"/>
<path fill="#2f3a98" fill-opacity="0.27" d="M194.1,337.7L186.8,328.6L190.6,325.9L194.6,323.5L200.6,333.5L197.3,335.5Z"/>
<path fill="#dff2f8" fill-opacity="0.10" d="M215.0,327.8L211.9,316.6L216.5,315.6L221.1,314.8L222.7,326.3L218.8,326.9Z"/>
<path fill="#dff2f8" fill-opacity="0.16" d="M230.5,314.2L230.5,302.7L236.0,302.9L241.4,303.4L239.9,314.8L235.2,314.4Z"/>
<path fill="#dff2f8" fill-opacity="0.13" d="M239.9,314.8L241.4,303.4L246.8,304.3L252.2,305.5L249.1,316.6L244.5,315.6Z"/>
<path fill="#dff2f8" fill-opacity="0.07" d="M258.0,319.5L262.5,308.9L267.5,311.0L272.4,313.5L266.4,323.5L262.2,321.4Z"/>
<path fill="#2f3a98" fill-opacity="0.08" d="M274.2,328.6L281.5,319.4L285.7,322.8L289.7,326.4L281.2,334.5L277.8,331.4Z"/>
<path fill="#dff2f8" fill-opacity="0.23" d="M281.2,334.5L289.7,326.4L293.4,330.2L296.9,334.3L287.4,341.3L284.4,337.8Z"/>
<path fill="#2f3a98" fill-opacity="0.12" d="M292.6,348.9L303.0,343.1L305.6,347.8L307.8,352.6L296.8,357.0L294.9,352.9Z"/>
<path fill="#dff2f8" fill-opacity="0.07" d="M296.8,357.0L307.8,352.6L309.8,357.5L311.4,362.6L299.8,365.6L298.4,361.2Z"/>
<path fill="#2f3a98" fill-opacity="0.00" d="M301.6,392.5L313.5,394.0L312.6,399.3L311.4,404.4L299.8,401.4L300.9,397.0Z"/>
<path fill="#dff2f8" fill-opacity="0.01" d="M299.8,401.4L311.4,404.4L309.8,409.5L307.8,414.4L296.8,410.0L298.4,405.8Z"/>
<path fill="#2f3a98" fill-opacity="0.17" d="M287.4,425.7L296.9,432.7L293.4,436.8L289.7,440.6L281.2,432.5L284.4,429.2Z"/>
<path fill="#dff2f8" fill-opacity="0.21" d="M281.2,432.5L289.7,440.6L285.7,444.2L281.5,447.6L274.2,438.4L277.8,435.6Z"/>
<path fill="#dff2f8" fill-opacity="0.22" d="M266.4,443.5L272.4,453.5L267.5,456.0L262.5,458.1L258.0,447.5L262.2,445.6Z"/>
<path fill="#dff2f8" fill-opacity="0.12" d="M258.0,447.5L262.5,458.1L257.4,460.0L252.2,461.5L249.1,450.4L253.6,449.1Z"/>
<path fill="#dff2f8" fill-opacity="0.03" d="M221.1,452.2L219.6,463.6L214.2,462.7L208.8,461.5L211.9,450.4L216.5,451.4Z"/>
<path fill="#2f3a98" fill-opacity="0.09" d="M211.9,450.4L208.8,461.5L203.6,460.0L198.5,458.1L203.0,447.5L207.4,449.1Z"/>
<path fill="#dff2f8" fill-opacity="0.10" d="M186.8,438.4L179.5,447.6L175.3,444.2L171.3,440.6L179.8,432.5L183.2,435.6Z"/>
<path fill="#2f3a98" fill-opacity="0.21" d="M161.2,401.4L149.6,404.4L148.4,399.3L147.5,394.0L159.4,392.5L160.1,397.0Z"/>
<path fill="#2f3a98" fill-opacity="0.09" d="M159.4,392.5L147.5,394.0L147.0,388.8L146.8,383.5L158.8,383.5L158.9,388.0Z"/>
<path fill="#dff2f8" fill-opacity="0.04" d="M158.8,383.5L146.8,383.5L147.0,378.2L147.5,373.0L159.4,374.5L158.9,379.0Z"/>
<path fill="#2f3a98" fill-opacity="0.03" d="M159.4,374.5L147.5,373.0L148.4,367.7L149.6,362.6L161.2,365.6L160.1,370.0Z"/>
<path fill="#2f3a98" fill-opacity="0.26" d="M161.2,365.6L149.6,362.6L151.2,357.5L153.2,352.6L164.2,357.0L162.6,361.2Z"/>
<path fill="#2f3a98" fill-opacity="0.22" d="M168.4,348.9L158.0,343.1L160.9,338.6L164.1,334.3L173.6,341.3L170.8,345.0Z"/>
<path fill="#2f3a98" fill-opacity="0.14" d="M173.6,341.3L164.1,334.3L167.6,330.2L171.3,326.4L179.8,334.5L176.6,337.8Z"/>
<path fill="#2f3a98" fill-opacity="0.21" d="M186.8,328.6L179.5,319.4L184.0,316.3L188.6,313.5L194.6,323.5L190.6,325.9Z"/>
<path fill="#2f3a98" fill-opacity="0.09" d="M194.6,323.5L188.6,313.5L193.5,311.0L198.5,308.9L203.0,319.5L198.8,321.4Z"/>
<path fill="#dff2f8" fill-opacity="0.12" d="M203.0,319.5L198.5,308.9L203.6,307.0L208.8,305.5L211.9,316.6L207.4,317.9Z"/>
<path fill="#dff2f8" fill-opacity="0.09" d="M211.9,316.6L208.8,305.5L214.2,304.3L219.6,303.4L221.1,314.8L216.5,315.6Z"/>
<path fill="#2f3a98" fill-opacity="0.05" d="M262.5,308.9L267.1,298.2L272.8,300.7L278.3,303.5L272.4,313.5L267.5,311.0Z"/>
<path fill="#2f3a98" fill-opacity="0.24" d="M281.5,319.4L288.7,310.2L293.6,314.1L298.1,318.2L289.7,326.4L285.7,322.8Z"/>
<path fill="#2f3a98" fill-opacity="0.07" d="M296.9,334.3L306.4,327.3L310.0,332.2L313.3,337.3L303.0,343.1L300.1,338.6Z"/>
<path fill="#2f3a98" fill-opacity="0.27" d="M311.4,362.6L322.9,359.6L324.3,365.5L325.3,371.4L313.5,373.0L312.6,367.7Z"/>
<path fill="#2f3a98" fill-opacity="0.09" d="M313.5,373.0L325.3,371.4L326.0,377.5L326.2,383.5L314.2,383.5L314.0,378.2Z"/>
<path fill="#dff2f8" fill-opacity="0.24" d="M314.2,383.5L326.2,383.5L326.0,389.5L325.3,395.6L313.5,394.0L314.0,388.8Z"/>
<path fill="#2f3a98" fill-opacity="0.04" d="M313.5,394.0L325.3,395.6L324.3,401.5L322.9,407.4L311.4,404.4L312.6,399.3Z"/>
<path fill="#2f3a98" fill-opacity="0.21" d="M262.5,458.1L267.1,468.8L261.3,470.9L255.3,472.7L252.2,461.5L257.4,460.0Z"/>
<path fill="#2f3a98" fill-opacity="0.25" d="M241.4,463.6L243.0,475.0L236.8,475.6L230.5,475.8L230.5,464.3L236.0,464.1Z"/>
<path fill="#2f3a98" fill-opacity="0.27" d="M230.5,464.3L230.5,475.8L224.2,475.6L218.0,475.0L219.6,463.6L225.0,464.1Z"/>
<path fill="#dff2f8" fill-opacity="0.14" d="M219.6,463.6L218.0,475.0L211.8,474.1L205.7,472.7L208.8,461.5L214.2,462.7Z"/>
<path fill="#2f3a98" fill-opacity="0.03" d="M208.8,461.5L205.7,472.7L199.7,470.9L193.9,468.8L198.5,458.1L203.6,460.0Z"/>
<path fill="#dff2f8" fill-opacity="0.21" d="M188.6,453.5L182.7,463.5L177.4,460.3L172.3,456.8L179.5,447.6L184.0,450.7Z"/>
<path fill="#dff2f8" fill-opacity="0.03" d="M158.0,423.9L147.7,429.7L144.7,424.3L142.1,418.8L153.2,414.4L155.4,419.2Z"/>
<path fill="#dff2f8" fill-opacity="0.22" d="M153.2,414.4L142.1,418.8L139.9,413.2L138.1,407.4L149.6,404.4L151.2,409.5Z"/>
<path fill="#dff2f8" fill-opacity="0.03" d="M147.5,394.0L135.7,395.6L135.0,389.5L134.8,383.5L146.8,383.5L147.0,388.8Z"/>
<path fill="#2f3a98" fill-opacity="0.06" d="M147.5,373.0L135.7,371.4L136.7,365.5L138.1,359.6L149.6,362.6L148.4,367.7Z"/>
<path fill="#dff2f8" fill-opacity="0.09" d="M153.2,352.6L142.1,348.2L144.7,342.7L147.7,337.3L158.0,343.1L155.4,347.8Z"/>
<path fill="#dff2f8" fill-opacity="0.11" d="M188.6,313.5L182.7,303.5L188.2,300.7L193.9,298.2L198.5,308.9L193.5,311.0Z"/>
<path fill="#2f3a98" fill-opacity="0.21" d="M198.5,308.9L193.9,298.2L199.7,296.1L205.7,294.3L208.8,305.5L203.6,307.0Z"/>
<path fill="#2f3a98" fill-opacity="0.26" d="M219.6,303.4L218.0,292.0L224.2,291.4L230.5,291.2L230.5,302.7L225.0,302.9Z"/>
<path fill="#dff2f8" fill-opacity="0.20" d="M243.0,292.0L244.5,280.5L251.5,281.6L258.4,283.2L255.3,294.3L249.2,292.9Z"/>
<path fill="#dff2f8" fill-opacity="0.23" d="M267.1,298.2L271.7,287.5L278.1,290.3L284.3,293.5L278.3,303.5L272.8,300.7Z"/>
<path fill="#2f3a98" fill-opacity="0.23" d="M288.7,310.2L296.0,301.1L301.5,305.4L306.6,310.0L298.1,318.2L293.6,314.1Z"/>
<path fill="#2f3a98" fill-opacity="0.26" d="M306.4,327.3L315.9,320.3L320.0,325.8L323.7,331.6L313.3,337.3L310.0,332.2Z"/>
<path fill="#dff2f8" fill-opacity="0.03" d="M313.3,337.3L323.7,331.6L327.0,337.6L329.9,343.7L318.9,348.2L316.3,342.7Z"/>
<path fill="#dff2f8" fill-opacity="0.04" d="M318.9,348.2L329.9,343.7L332.4,350.1L334.5,356.6L322.9,359.6L321.1,353.8Z"/>
<path fill="#dff2f8" fill-opacity="0.06" d="M318.9,418.8L329.9,423.3L327.0,429.4L323.7,435.4L313.3,429.7L316.3,424.3Z"/>
<path fill="#dff2f8" fill-opacity="0.02" d="M306.4,439.7L315.9,446.7L311.4,452.0L306.6,457.0L298.1,448.8L302.4,444.4Z"/>
<path fill="#2f3a98" fill-opacity="0.14" d="M298.1,448.8L306.6,457.0L301.5,461.6L296.0,465.9L288.7,456.8L293.6,452.9Z"/>
<path fill="#2f3a98" fill-opacity="0.27" d="M288.7,456.8L296.0,465.9L290.3,469.9L284.3,473.5L278.3,463.5L283.6,460.3Z"/>
<path fill="#dff2f8" fill-opacity="0.10" d="M278.3,463.5L284.3,473.5L278.1,476.7L271.7,479.5L267.1,468.8L272.8,466.3Z"/>
<path fill="#2f3a98" fill-opacity="0.21" d="M255.3,472.7L258.4,483.8L251.5,485.4L244.5,486.5L243.0,475.0L249.2,474.1Z"/>
<path fill="#dff2f8" fill-opacity="0.04" d="M243.0,475.0L244.5,486.5L237.5,487.2L230.5,487.4L230.5,475.8L236.8,475.6Z"/>
<path fill="#2f3a98" fill-opacity="0.08" d="M218.0,475.0L216.5,486.5L209.5,485.4L202.6,483.8L205.7,472.7L211.8,474.1Z"/>
<path fill="#2f3a98" fill-opacity="0.03" d="M205.7,472.7L202.6,483.8L195.9,481.9L189.3,479.5L193.9,468.8L199.7,470.9Z"/>
<path fill="#dff2f8" fill-opacity="0.11" d="M193.9,468.8L189.3,479.5L182.9,476.7L176.7,473.5L182.7,463.5L188.2,466.3Z"/>
<path fill="#2f3a98" fill-opacity="0.26" d="M172.3,456.8L165.0,465.9L159.5,461.6L154.4,457.0L162.9,448.8L167.4,452.9Z"/>
<path fill="#dff2f8" fill-opacity="0.18" d="M162.9,448.8L154.4,457.0L149.6,452.0L145.1,446.7L154.6,439.7L158.6,444.4Z"/>
<path fill="#dff2f8" fill-opacity="0.04" d="M138.1,407.4L126.5,410.4L124.9,403.8L123.8,397.1L135.7,395.6L136.7,401.5Z"/>
<path fill="#2f3a98" fill-opacity="0.08" d="M138.1,359.6L126.5,356.6L128.6,350.1L131.1,343.7L142.1,348.2L139.9,353.8Z"/>
<path fill="#dff2f8" fill-opacity="0.04" d="M142.1,348.2L131.1,343.7L134.0,337.6L137.3,331.6L147.7,337.3L144.7,342.7Z"/>
<path fill="#2f3a98" fill-opacity="0.12" d="M172.3,310.2L165.0,301.1L170.7,297.1L176.7,293.5L182.7,303.5L177.4,306.7Z"/>
<path fill="#2f3a98" fill-opacity="0.16" d="M205.7,294.3L202.6,283.2L209.5,281.6L216.5,280.5L218.0,292.0L211.8,292.9Z"/>
<path fill="#dff2f8" fill-opacity="0.12" d="M218.0,292.0L216.5,280.5L223.5,279.8L230.5,279.6L230.5,291.2L224.2,291.4Z"/>
<path fill="#dff2f8" fill-opacity="0.14" d="M258.4,283.2L261.5,272.0L268.9,274.2L276.3,276.9L271.7,287.5L265.1,285.1Z"/>
<path fill="#2f3a98" fill-opacity="0.06" d="M271.7,287.5L276.3,276.9L283.4,280.0L290.3,283.5L284.3,293.5L278.1,290.3Z"/>
<path fill="#2f3a98" fill-opacity="0.12" d="M306.6,310.0L315.1,301.9L320.4,307.4L325.4,313.2L315.9,320.3L311.4,315.0Z"/>
<path fill="#dff2f8" fill-opacity="0.18" d="M334.5,356.6L346.0,353.6L347.8,361.0L349.1,368.4L337.2,369.9L336.1,363.2Z"/>
<path fill="#dff2f8" fill-opacity="0.01" d="M338.1,383.5L350.1,383.5L349.8,391.0L349.1,398.6L337.2,397.1L337.9,390.3Z"/>
<path fill="#dff2f8" fill-opacity="0.07" d="M337.2,397.1L349.1,398.6L347.8,406.0L346.0,413.4L334.5,410.4L336.1,403.8Z"/>
<path fill="#dff2f8" fill-opacity="0.12" d="M334.5,410.4L346.0,413.4L343.7,420.6L341.0,427.7L329.9,423.3L332.4,416.9Z"/>
<path fill="#dff2f8" fill-opacity="0.06" d="M323.7,435.4L334.1,441.2L329.9,447.6L325.4,453.8L315.9,446.7L320.0,441.2Z"/>
<path fill="#2f3a98" fill-opacity="0.10" d="M306.6,457.0L315.1,465.1L309.3,470.3L303.3,475.1L296.0,465.9L301.5,461.6Z"/>
<path fill="#dff2f8" fill-opacity="0.10" d="M258.4,483.8L261.5,495.0L253.8,496.7L246.1,497.9L244.5,486.5L251.5,485.4Z"/>
<path fill="#2f3a98" fill-opacity="0.10" d="M230.5,487.4L230.5,498.9L222.7,498.7L214.9,497.9L216.5,486.5L223.5,487.2Z"/>
<path fill="#2f3a98" fill-opacity="0.22" d="M216.5,486.5L214.9,497.9L207.2,496.7L199.5,495.0L202.6,483.8L209.5,485.4Z"/>
<path fill="#dff2f8" fill-opacity="0.20" d="M202.6,483.8L199.5,495.0L192.1,492.8L184.7,490.1L189.3,479.5L195.9,481.9Z"/>
<path fill="#dff2f8" fill-opacity="0.14" d="M189.3,479.5L184.7,490.1L177.6,487.0L170.7,483.5L176.7,473.5L182.9,476.7Z"/>
<path fill="#2f3a98" fill-opacity="0.23" d="M154.4,457.0L145.9,465.1L140.6,459.6L135.6,453.8L145.1,446.7L149.6,452.0Z"/>
<path fill="#2f3a98" fill-opacity="0.01" d="M126.5,356.6L115.0,353.6L117.3,346.4L120.0,339.3L131.1,343.7L128.6,350.1Z"/>
<path fill="#2f3a98" fill-opacity="0.17" d="M137.3,331.6L126.9,325.8L131.1,319.4L135.6,313.2L145.1,320.3L141.0,325.8Z"/>
<path fill="#2f3a98" fill-opacity="0.13" d="M154.4,310.0L145.9,301.9L151.7,296.7L157.7,291.9L165.0,301.1L159.5,305.4Z"/>
<path fill="#2f3a98" fill-opacity="0.01" d="M216.5,280.5L214.9,269.1L222.7,268.3L230.5,268.1L230.5,279.6L223.5,279.8Z"/>
<path fill="#2f3a98" fill-opacity="0.06" d="M230.5,268.1L230.5,256.5L239.1,256.8L247.7,257.6L246.1,269.1L238.3,268.3Z"/>
<path fill="#dff2f8" fill-opacity="0.13" d="M276.3,276.9L280.8,266.2L288.7,269.6L296.3,273.6L290.3,283.5L283.4,280.0Z"/>
<path fill="#2f3a98" fill-opacity="0.11" d="M303.3,291.9L310.6,282.8L317.2,288.0L323.5,293.7L315.1,301.9L309.3,296.7Z"/>
<path fill="#dff2f8" fill-opacity="0.05" d="M325.4,313.2L334.9,306.2L339.9,313.0L344.4,320.0L334.1,325.8L329.9,319.4Z"/>
<path fill="#2f3a98" fill-opacity="0.12" d="M334.1,325.8L344.4,320.0L348.5,327.3L352.0,334.9L341.0,339.3L337.8,332.5Z"/>
<path fill="#2f3a98" fill-opacity="0.13" d="M349.1,368.4L360.9,366.9L361.8,375.2L362.0,383.5L350.1,383.5L349.8,376.0Z"/>
<path fill="#dff2f8" fill-opacity="0.12" d="M350.1,383.5L362.0,383.5L361.8,391.8L360.9,400.1L349.1,398.6L349.8,391.0Z"/>
<path fill="#2f3a98" fill-opacity="0.25" d="M346.0,413.4L357.6,416.4L355.1,424.3L352.0,432.1L341.0,427.7L343.7,420.6Z"/>
<path fill="#2f3a98" fill-opacity="0.10" d="M325.4,453.8L334.9,460.8L329.4,467.2L323.5,473.3L315.1,465.1L320.4,459.6Z"/>
<path fill="#dff2f8" fill-opacity="0.20" d="M315.1,465.1L323.5,473.3L317.2,479.0L310.6,484.2L303.3,475.1L309.3,470.3Z"/>
<path fill="#2f3a98" fill-opacity="0.17" d="M303.3,475.1L310.6,484.2L303.6,489.1L296.3,493.4L290.3,483.5L296.9,479.5Z"/>
<path fill="#2f3a98" fill-opacity="0.18" d="M290.3,483.5L296.3,493.4L288.7,497.4L280.8,500.8L276.3,490.1L283.4,487.0Z"/>
<path fill="#2f3a98" fill-opacity="0.17" d="M276.3,490.1L280.8,500.8L272.8,503.7L264.5,506.1L261.5,495.0L268.9,492.8Z"/>
<path fill="#2f3a98" fill-opacity="0.24" d="M261.5,495.0L264.5,506.1L256.2,508.0L247.7,509.4L246.1,497.9L253.8,496.7Z"/>
<path fill="#2f3a98" fill-opacity="0.10" d="M230.5,498.9L230.5,510.5L221.9,510.2L213.3,509.4L214.9,497.9L222.7,498.7Z"/>
<path fill="#2f3a98" fill-opacity="0.11" d="M170.7,483.5L164.7,493.4L157.4,489.1L150.4,484.2L157.7,475.1L164.1,479.5Z"/>
<path fill="#dff2f8" fill-opacity="0.23" d="M115.0,413.4L103.4,416.4L101.5,408.3L100.1,400.1L111.9,398.6L113.2,406.0Z"/>
<path fill="#2f3a98" fill-opacity="0.06" d="M111.9,368.4L100.1,366.9L101.5,358.7L103.4,350.6L115.0,353.6L113.2,361.0Z"/>
<path fill="#2f3a98" fill-opacity="0.02" d="M135.6,313.2L126.1,306.2L131.6,299.8L137.5,293.7L145.9,301.9L140.6,307.4Z"/>
<path fill="#2f3a98" fill-opacity="0.10" d="M214.9,269.1L213.3,257.6L221.9,256.8L230.5,256.5L230.5,268.1L222.7,268.3Z"/>
<path fill="#dff2f8" fill-opacity="0.11" d="M296.3,273.6L302.2,263.6L310.2,268.3L317.9,273.6L310.6,282.8L303.6,277.9Z"/>
<path fill="#dff2f8" fill-opacity="0.15" d="M323.5,293.7L332.0,285.6L338.4,292.2L344.3,299.2L334.9,306.2L329.4,299.8Z"/>
<path fill="#2f3a98" fill-opacity="0.20" d="M344.4,320.0L354.8,314.2L359.2,322.2L363.1,330.5L352.0,334.9L348.5,327.3Z"/>
<path fill="#dff2f8" fill-opacity="0.22" d="M360.9,366.9L372.8,365.4L373.7,374.4L374.0,383.5L362.0,383.5L361.8,375.2Z"/>
<path fill="#2f3a98" fill-opacity="0.24" d="M357.6,416.4L369.1,419.3L366.4,428.0L363.1,436.5L352.0,432.1L355.1,424.3Z"/>
<path fill="#2f3a98" fill-opacity="0.26" d="M310.6,484.2L317.9,493.4L310.2,498.7L302.2,503.4L296.3,493.4L303.6,489.1Z"/>
<path fill="#2f3a98" fill-opacity="0.15" d="M230.5,510.5L230.5,522.0L221.1,521.7L211.8,520.8L213.3,509.4L221.9,510.2Z"/>
<path fill="#dff2f8" fill-opacity="0.03" d="M213.3,509.4L211.8,520.8L202.5,519.3L193.4,517.3L196.5,506.1L204.8,508.0Z"/>
<path fill="#2f3a98" fill-opacity="0.19" d="M150.4,484.2L143.1,493.4L135.9,487.6L129.0,481.4L137.5,473.3L143.8,479.0Z"/>
<path fill="#2f3a98" fill-opacity="0.05" d="M137.5,473.3L129.0,481.4L122.6,474.8L116.7,467.8L126.1,460.8L131.6,467.2Z"/>
<path fill="#dff2f8" fill-opacity="0.12" d="M103.4,416.4L91.9,419.3L89.8,410.5L88.2,401.6L100.1,400.1L101.5,408.3Z"/>
<path fill="#2f3a98" fill-opacity="0.16" d="M100.1,400.1L88.2,401.6L87.3,392.6L87.0,383.5L99.0,383.5L99.2,391.8Z"/>
<path fill="#dff2f8" fill-opacity="0.15" d="M99.0,383.5L87.0,383.5L87.3,374.4L88.2,365.4L100.1,366.9L99.2,375.2Z"/>
<path fill="#dff2f8" fill-opacity="0.09" d="M103.4,350.6L91.9,347.7L94.6,339.0L97.9,330.5L109.0,334.9L105.9,342.7Z"/>
<path fill="#2f3a98" fill-opacity="0.24" d="M126.1,306.2L116.7,299.2L122.6,292.2L129.0,285.6L137.5,293.7L131.6,299.8Z"/>
<path fill="#dff2f8" fill-opacity="0.17" d="M137.5,293.7L129.0,285.6L135.9,279.4L143.1,273.6L150.4,282.8L143.8,288.0Z"/>
<path fill="#dff2f8" fill-opacity="0.13" d="M150.4,282.8L143.1,273.6L150.8,268.3L158.7,263.6L164.7,273.6L157.4,277.9Z"/>
<path fill="#dff2f8" fill-opacity="0.20" d="M164.7,273.6L158.7,263.6L167.0,259.3L175.6,255.5L180.2,266.2L172.3,269.6Z"/>
<path fill="#dff2f8" fill-opacity="0.15" d="M180.2,266.2L175.6,255.5L184.4,252.4L193.4,249.7L196.5,260.9L188.2,263.3Z"/>
</g></g>
<g fill="none" stroke="#fafac8" stroke-width="1.25">
<ellipse cx="230.5" cy="383.5" rx="47.8" ry="46.2"/>
<ellipse cx="230.5" cy="383.5" rx="95.7" ry="92.3"/>
<ellipse cx="230.5" cy="383.5" rx="143.5" ry="138.5"/>
<line x1="230.5" y1="245.0" x2="230.5" y2="522.0"/>
<line x1="332.0" y1="285.6" x2="129.0" y2="481.4"/>
<line x1="374.0" y1="383.5" x2="87.0" y2="383.5"/>
<line x1="332.0" y1="481.4" x2="129.0" y2="285.6"/>
</g>
<line x1="230.5" y1="383.5" x2="316.9" y2="491.4" stroke="#f59a1b" stroke-width="1.3"/>
<g class="s" fill="#00ff00" stroke="#00ff00" stroke-width="0.1" text-anchor="middle">
<text x="206.5" y="240.0" textLength="25.8" lengthAdjust="spacingAndGlyphs">E19</text>
<text x="241.0" y="236.5" textLength="27.6" lengthAdjust="spacingAndGlyphs">G28</text>
<text x="258.6" y="255.5" textLength="25.8" lengthAdjust="spacingAndGlyphs">E29</text>
<text x="234.4" y="281.3" textLength="25.8" lengthAdjust="spacingAndGlyphs">E21</text>
<text x="313.3" y="269.1" textLength="26.7" lengthAdjust="spacingAndGlyphs">C27</text>
<text x="324.6" y="297.9" textLength="25.8" lengthAdjust="spacingAndGlyphs">E20</text>
<text x="292.4" y="319.7" textLength="26.7" lengthAdjust="spacingAndGlyphs">R18</text>
<text x="338.3" y="335.0" textLength="25.8" lengthAdjust="spacingAndGlyphs">E07</text>
<text x="303.1" y="352.9" textLength="27.6" lengthAdjust="spacingAndGlyphs">G18</text>
<text x="246.9" y="311.5" textLength="27.6" lengthAdjust="spacingAndGlyphs">G62</text>
<text x="247.5" y="316.0" textLength="27.6" lengthAdjust="spacingAndGlyphs">G64</text>
<text x="246.5" y="323.3" textLength="30.2" lengthAdjust="spacingAndGlyphs">J195</text>
<text x="255.3" y="323.3" textLength="25.8" lengthAdjust="spacingAndGlyphs">E30</text>
<text x="254.3" y="380.2" textLength="26.7" lengthAdjust="spacingAndGlyphs">R25</text>
<text x="225.0" y="364.0" textLength="26.7" lengthAdjust="spacingAndGlyphs">C47</text>
<text x="223.0" y="377.7" textLength="30.2" lengthAdjust="spacingAndGlyphs">J195</text>
<text x="241.6" y="391.4" textLength="26.7" lengthAdjust="spacingAndGlyphs">R19</text>
<text x="335.7" y="410.1" textLength="27.6" lengthAdjust="spacingAndGlyphs">G24</text>
<text x="356.4" y="429.7" textLength="25.8" lengthAdjust="spacingAndGlyphs">E08</text>
<text x="282.6" y="427.9" textLength="27.6" lengthAdjust="spacingAndGlyphs">G23</text>
<text x="287.1" y="438.8" textLength="27.6" lengthAdjust="spacingAndGlyphs">G32</text>
<text x="314.5" y="454.7" textLength="25.8" lengthAdjust="spacingAndGlyphs">E13</text>
<text x="320.3" y="469.1" textLength="27.6" lengthAdjust="spacingAndGlyphs">G15</text>
<text x="106.5" y="437.3" textLength="26.7" lengthAdjust="spacingAndGlyphs">R03</text>
<text x="149.5" y="448.0" textLength="27.6" lengthAdjust="spacingAndGlyphs">G08</text>
<text x="166.1" y="431.4" textLength="26.7" lengthAdjust="spacingAndGlyphs">C58</text>
<text x="146.5" y="468.1" textLength="26.7" lengthAdjust="spacingAndGlyphs">C35</text>
<text x="180.3" y="460.7" textLength="26.7" lengthAdjust="spacingAndGlyphs">R20</text>
<text x="164.1" y="492.9" textLength="25.8" lengthAdjust="spacingAndGlyphs">E24</text>
<text x="172.5" y="412.9" textLength="25.8" lengthAdjust="spacingAndGlyphs">E31</text>
<text x="203.2" y="407.6" textLength="25.8" lengthAdjust="spacingAndGlyphs">E36</text>
<text x="206.1" y="411.5" textLength="25.8" lengthAdjust="spacingAndGlyphs">E10</text>
<text x="198.5" y="391.8" textLength="26.7" lengthAdjust="spacingAndGlyphs">C29</text>
<text x="157.3" y="394.9" textLength="26.7" lengthAdjust="spacingAndGlyphs">C38</text>
<text x="161.8" y="392.9" textLength="27.6" lengthAdjust="spacingAndGlyphs">G33</text>
<text x="173.9" y="393.9" textLength="26.7" lengthAdjust="spacingAndGlyphs">C33</text>
<text x="128.4" y="383.2" textLength="26.7" lengthAdjust="spacingAndGlyphs">R08</text>
<text x="136.2" y="384.1" textLength="26.7" lengthAdjust="spacingAndGlyphs">C08</text>
<text x="120.2" y="375.0" textLength="26.7" lengthAdjust="spacingAndGlyphs">C13</text>
<text x="137.3" y="271.1" textLength="26.7" lengthAdjust="spacingAndGlyphs">R27</text>
<text x="137.9" y="305.0" textLength="25.8" lengthAdjust="spacingAndGlyphs">E18</text>
<text x="106.0" y="323.4" textLength="27.6" lengthAdjust="spacingAndGlyphs">G16</text>
<text x="150.8" y="318.5" textLength="26.7" lengthAdjust="spacingAndGlyphs">C03</text>
<text x="150.4" y="329.4" textLength="26.7" lengthAdjust="spacingAndGlyphs">C19</text>
<text x="117.0" y="343.0" textLength="30.2" lengthAdjust="spacingAndGlyphs">J200</text>
<text x="107.0" y="353.0" textLength="26.7" lengthAdjust="spacingAndGlyphs">C02</text>
<text x="101.9" y="360.9" textLength="26.7" lengthAdjust="spacingAndGlyphs">C60</text>
<text x="157.0" y="375.9" textLength="26.7" lengthAdjust="spacingAndGlyphs">C10</text>
<text x="167.0" y="356.1" textLength="26.7" lengthAdjust="spacingAndGlyphs">C06</text>
<text x="183.0" y="360.3" textLength="26.7" lengthAdjust="spacingAndGlyphs">C43</text>
<text x="182.0" y="320.0" textLength="30.2" lengthAdjust="spacingAndGlyphs">J198</text>
<text x="177.5" y="324.5" textLength="30.2" lengthAdjust="spacingAndGlyphs">J189</text>
<text x="180.0" y="337.3" textLength="25.8" lengthAdjust="spacingAndGlyphs">E35</text>
<text x="178.0" y="341.5" textLength="25.8" lengthAdjust="spacingAndGlyphs">E36</text>
<text x="187.3" y="351.9" textLength="26.7" lengthAdjust="spacingAndGlyphs">C40</text>
<text x="207.0" y="313.4" textLength="26.7" lengthAdjust="spacingAndGlyphs">C68</text>
<text x="216.5" y="314.4" textLength="27.6" lengthAdjust="spacingAndGlyphs">G01</text>
<text x="208.0" y="318.5" textLength="25.8" lengthAdjust="spacingAndGlyphs">E12</text>
<text x="212.3" y="321.7" textLength="25.8" lengthAdjust="spacingAndGlyphs">E32</text>
<text x="193.5" y="383.0" textLength="25.8" lengthAdjust="spacingAndGlyphs">E01</text>
<text x="212.8" y="383.0" textLength="26.7" lengthAdjust="spacingAndGlyphs">C20</text>
</g>
<path d="M202.5,248.5h8M206.5,244.5v8M237.0,245.0h8M241.0,241.0v8M254.6,264.0h8M258.6,260.0v8M230.4,289.8h8M234.4,285.8v8M309.3,277.6h8M313.3,273.6v8M320.6,306.4h8M324.6,302.4v8M288.4,328.2h8M292.4,324.2v8M334.3,343.5h8M338.3,339.5v8M299.1,361.4h8M303.1,357.4v8M242.9,320.0h8M246.9,316.0v8M243.5,324.5h8M247.5,320.5v8M242.5,331.8h8M246.5,327.8v8M251.3,331.8h8M255.3,327.8v8M250.3,388.7h8M254.3,384.7v8M221.0,372.5h8M225.0,368.5v8M219.0,386.2h8M223.0,382.2v8M237.6,399.9h8M241.6,395.9v8M331.7,418.6h8M335.7,414.6v8M352.4,438.2h8M356.4,434.2v8M278.6,436.4h8M282.6,432.4v8M283.1,447.3h8M287.1,443.3v8M310.5,463.2h8M314.5,459.2v8M316.3,477.6h8M320.3,473.6v8M102.5,445.8h8M106.5,441.8v8M145.5,456.5h8M149.5,452.5v8M162.1,439.9h8M166.1,435.9v8M142.5,476.6h8M146.5,472.6v8M176.3,469.2h8M180.3,465.2v8M160.1,501.4h8M164.1,497.4v8M168.5,421.4h8M172.5,417.4v8M199.2,416.1h8M203.2,412.1v8M202.1,420.0h8M206.1,416.0v8M194.5,400.3h8M198.5,396.3v8M153.3,403.4h8M157.3,399.4v8M157.8,401.4h8M161.8,397.4v8M169.9,402.4h8M173.9,398.4v8M124.4,391.7h8M128.4,387.7v8M132.2,392.6h8M136.2,388.6v8M116.2,383.5h8M120.2,379.5v8M133.3,279.6h8M137.3,275.6v8M133.9,313.5h8M137.9,309.5v8M102.0,331.9h8M106.0,327.9v8M146.8,327.0h8M150.8,323.0v8M146.4,337.9h8M150.4,333.9v8M113.0,351.5h8M117.0,347.5v8M103.0,361.5h8M107.0,357.5v8M97.9,369.4h8M101.9,365.4v8M153.0,384.4h8M157.0,380.4v8M163.0,364.6h8M167.0,360.6v8M179.0,368.8h8M183.0,364.8v8M178.0,328.5h8M182.0,324.5v8M173.5,333.0h8M177.5,329.0v8M176.0,345.8h8M180.0,341.8v8M174.0,350.0h8M178.0,346.0v8M183.3,360.4h8M187.3,356.4v8M203.0,321.9h8M207.0,317.9v8M212.5,322.9h8M216.5,318.9v8M204.0,327.0h8M208.0,323.0v8M208.3,330.2h8M212.3,326.2v8M189.5,391.5h8M193.5,387.5v8M208.8,391.5h8M212.8,387.5v8" stroke="#00ff00" stroke-width="1" fill="none" shape-rendering="crispEdges"/>
<g fill="#ffa012">
<circle cx="335.4" cy="471.4" r="2.9"/>
<circle cx="332.4" cy="480.0" r="2.9"/>
<circle cx="320.7" cy="490.7" r="2.9"/>
<circle cx="316.8" cy="492.3" r="2.9"/>
<circle cx="311.9" cy="496.6" r="2.9"/>
<circle cx="304.1" cy="502.4" r="2.9"/>
<circle cx="294.3" cy="507.3" r="2.9"/>
<circle cx="287.1" cy="510.4" r="2.9"/>
<circle cx="280.3" cy="513.2" r="2.9"/>
<circle cx="262.1" cy="518.2" r="2.9"/>
<circle cx="255.3" cy="519.0" r="2.9"/>
<circle cx="249.4" cy="520.0" r="2.9"/>
<circle cx="242.6" cy="521.2" r="2.9"/>
<circle cx="352.3" cy="399.1" r="2.9"/>
<circle cx="310.4" cy="351.3" r="2.9"/>
<circle cx="213.9" cy="521.0" r="2.9"/>
<circle cx="142.2" cy="459.4" r="2.9"/>
<circle cx="157.1" cy="501.7" r="2.9"/>
<circle cx="159.5" cy="503.0" r="2.9"/>
<circle cx="161.8" cy="504.3" r="2.9"/>
<circle cx="164.2" cy="505.6" r="2.9"/>
<circle cx="166.6" cy="506.8" r="2.9"/>
<circle cx="169.1" cy="507.9" r="2.9"/>
<circle cx="171.5" cy="509.0" r="2.9"/>
<circle cx="174.0" cy="510.1" r="2.9"/>
<circle cx="176.5" cy="511.1" r="2.9"/>
<circle cx="179.1" cy="512.1" r="2.9"/>
<circle cx="181.6" cy="513.0" r="2.9"/>
<circle cx="184.2" cy="513.8" r="2.9"/>
<circle cx="186.7" cy="514.7" r="2.9"/>
<circle cx="189.3" cy="515.5" r="2.9"/>
<circle cx="191.9" cy="516.2" r="2.9"/>
<circle cx="194.6" cy="516.9" r="2.9"/>
<circle cx="197.2" cy="517.5" r="2.9"/>
</g>
<text class="t" x="229.0" y="186.0" text-anchor="middle" fill="#fafac8" textLength="308.2" lengthAdjust="spacingAndGlyphs">Sky Plot at the Epoch of Max Rx Power</text>
<text class="t" x="229.0" y="205.0" text-anchor="middle" fill="#fafac8" textLength="221.4" lengthAdjust="spacingAndGlyphs">2025-07-20T13:40:09.000Z</text>
<text class="t" x="720.0" y="195.0" text-anchor="middle" fill="#fafac8" textLength="107.0" lengthAdjust="spacingAndGlyphs">Waterfall Plot</text>
<g stroke="#fafac8" stroke-width="1" fill="none">
<path d="M511.5,302V461"/>
<path d="M511.5,302.5h7M511.5,328.5h7M511.5,355.5h7M511.5,381.5h7M511.5,408.5h7M511.5,434.5h7"/>
<path d="M512.0,461.0L667.9,381.3L933.5,427.8L777.6,507.5Z"/>
<path d="M512.0,461.0l5.8,-3.0M667.9,381.3l-5.8,3.0M545.2,466.8l2.9,-1.5M701.1,387.1l-2.9,1.5M578.4,472.6l5.8,-3.0M734.3,392.9l-5.8,3.0M611.6,478.4l2.9,-1.5M767.5,398.7l-2.9,1.5M644.8,484.2l5.8,-3.0M800.7,404.6l-5.8,3.0M678.0,490.1l2.9,-1.5M833.9,410.4l-2.9,1.5M711.2,495.9l5.8,-3.0M867.1,416.2l-5.8,3.0M744.4,501.7l2.9,-1.5M900.3,422.0l-2.9,1.5M777.6,507.5l5.8,-3.0M933.5,427.8l-5.8,3.0M777.6,507.5l-6.4,-1.1M512.0,461.0l6.4,1.1M799.9,496.1l-6.4,-1.1M534.3,449.6l6.4,1.1M822.1,484.7l-6.4,-1.1M556.5,438.2l6.4,1.1M844.4,473.3l-6.4,-1.1M578.8,426.8l6.4,1.1M866.7,462.0l-6.4,-1.1M601.1,415.5l6.4,1.1M889.0,450.6l-6.4,-1.1M623.4,404.1l6.4,1.1M911.2,439.2l-6.4,-1.1M645.6,392.7l6.4,1.1M933.5,427.8l-6.4,-1.1M667.9,381.3l6.4,1.1"/>
</g>
<text class="t" x="494.0" y="306.5" text-anchor="end" fill="#fafac8" textLength="10.2" lengthAdjust="spacingAndGlyphs">0</text>
<text class="t" x="494.0" y="333.0" text-anchor="end" fill="#fafac8" textLength="26.2" lengthAdjust="spacingAndGlyphs">-20</text>
<text class="t" x="494.0" y="359.5" text-anchor="end" fill="#fafac8" textLength="26.2" lengthAdjust="spacingAndGlyphs">-40</text>
<text class="t" x="494.0" y="386.0" text-anchor="end" fill="#fafac8" textLength="26.2" lengthAdjust="spacingAndGlyphs">-60</text>
<text class="t" x="494.0" y="412.5" text-anchor="end" fill="#fafac8" textLength="26.2" lengthAdjust="spacingAndGlyphs">-80</text>
<text class="t" x="494.0" y="439.0" text-anchor="end" fill="#fafac8" textLength="36.3" lengthAdjust="spacingAndGlyphs">-100</text>
<text class="t" x="494.0" y="465.5" text-anchor="end" fill="#fafac8" textLength="36.3" lengthAdjust="spacingAndGlyphs">-120</text>
<text class="t" x="437.0" y="382.5" text-anchor="middle" fill="#fafac8" textLength="86.5" lengthAdjust="spacingAndGlyphs" transform="rotate(-90 437.0 382.5)">PSD (dBm)</text>
<clipPath id="sc"><path d="M553.2,419.7L553.6,416.8L554.0,414.8L554.4,412.7L555.1,409.3L555.7,407.9L556.4,404.8L557.0,402.7L557.7,400.9L558.3,397.8L559.0,396.3L561.4,395.1L563.7,393.3L566.0,392.7L568.4,391.6L569.6,388.5L570.8,385.7L571.2,382.7L571.5,379.7L571.9,378.5L572.2,376.0L572.6,373.0L573.0,370.2L573.3,368.4L573.7,366.4L574.1,363.1L574.4,362.2L574.8,358.6L575.1,357.2L575.5,355.3L576.2,353.0L576.9,350.9L577.6,348.5L578.3,345.6L579.0,344.5L579.7,341.7L580.4,339.5L581.1,337.8L581.8,335.4L582.5,334.2L584.8,333.5L587.1,332.9L589.5,332.1L591.8,331.8L593.8,329.2L595.7,328.0L597.7,326.6L599.7,324.7L601.6,323.3L603.6,322.5L605.7,321.1L607.8,319.4L609.8,318.6L611.9,318.5L614.0,317.0L616.1,316.2L618.1,314.7L620.2,314.0L622.3,314.3L624.6,312.3L627.0,309.6L629.3,309.6L631.3,308.4L633.4,306.9L635.5,305.3L637.5,305.3L639.5,303.7L641.6,303.4L643.7,301.4L645.7,301.4L648.0,299.6L650.4,299.3L652.7,298.2L655.1,298.5L657.4,297.3L659.8,296.8L662.1,297.2L664.8,295.7L667.4,295.3L670.1,294.1L672.7,294.8L675.4,293.9L678.2,295.3L680.9,296.7L682.0,298.0L683.2,301.3L684.4,302.6L685.5,306.0L686.7,306.9L687.9,308.3L689.0,310.6L690.2,313.4L691.4,315.2L692.6,317.8L694.0,319.0L696.9,317.7L699.8,318.6L702.0,318.8L704.2,318.4L706.4,319.1L708.6,319.5L710.8,319.8L713.0,319.0L715.2,320.3L717.4,320.3L719.6,321.0L721.8,319.8L724.0,318.5L726.2,319.2L728.4,318.1L730.6,317.4L732.8,316.3L735.0,315.9L737.2,315.3L739.4,316.1L741.5,316.4L743.6,316.8L745.7,317.6L747.9,317.5L750.0,318.1L752.1,320.1L754.2,321.0L756.7,319.9L759.2,318.9L761.6,318.1L764.1,316.9L766.6,316.8L769.1,316.0L771.5,316.7L774.0,317.3L776.5,316.8L778.9,317.0L781.4,317.8L783.9,317.7L786.3,317.9L788.8,319.1L791.3,321.0L793.4,321.4L795.4,322.5L797.5,323.6L799.6,325.8L801.6,325.7L803.7,328.4L806.2,326.8L808.6,326.3L811.1,326.1L813.5,326.4L816.0,326.7L818.1,327.5L820.1,329.3L822.2,330.9L822.8,332.1L823.3,335.2L823.9,337.4L824.4,339.4L825.0,341.6L825.5,343.6L826.1,346.2L826.6,348.5L827.2,350.7L829.4,351.2L831.6,352.0L833.9,352.3L836.1,353.6L838.3,354.4L840.8,353.5L843.3,354.4L845.7,355.7L848.2,356.0L850.7,356.9L852.8,358.0L854.8,359.6L856.9,361.8L857.3,363.8L857.6,364.9L858.0,366.9L858.4,370.0L858.8,372.2L859.1,375.0L859.5,377.2L859.9,379.1L860.2,381.4L860.6,384.1L863.1,382.6L865.5,383.6L868.0,383.7L870.5,383.6L873.4,382.1L876.2,382.8L879.1,383.6L879.9,386.6L875.4,392.8L873.8,395.6L872.1,399.6L870.5,398.9L868.0,399.5L865.5,402.4L863.0,400.2L860.5,406.0L858.0,406.4L855.6,406.5L853.1,403.9L850.6,404.7L848.2,404.7L845.7,403.2L843.3,405.8L840.8,401.4L838.3,403.4L835.8,404.0L833.4,401.2L830.9,398.9L828.4,398.8L826.0,400.5L823.5,395.2L821.6,398.3L819.8,395.8L817.9,393.7L816.0,387.8L813.5,391.3L811.1,386.6L809.2,392.1L807.4,391.4L805.6,394.7L803.7,394.0L801.2,396.1L798.8,394.7L796.3,395.0L793.8,395.2L792.5,398.4L791.3,400.2L790.0,404.2L788.8,402.6L786.8,408.4L784.8,406.8L782.9,410.3L780.9,411.5L778.9,407.6L776.5,414.2L774.0,411.3L772.8,415.1L771.5,416.4L770.3,418.4L769.0,420.2L767.8,421.2L767.3,424.4L766.9,428.6L766.4,432.2L766.0,434.1L765.5,434.4L765.0,437.4L764.6,440.3L764.1,438.5L763.3,441.0L762.4,445.9L761.6,449.2L760.8,450.7L759.9,452.6L759.1,450.9L757.1,454.8L755.2,454.8L753.2,459.3L751.3,458.5L749.3,458.3L747.3,463.5L745.3,465.6L743.4,464.0L741.4,465.3L739.4,464.5L737.4,470.5L735.4,470.6L733.5,469.1L731.5,470.1L729.5,470.7L727.0,471.0L724.5,474.4L722.0,469.4L720.6,471.5L719.2,466.2L717.8,467.7L716.4,466.5L715.0,463.0L713.6,459.5L712.2,455.8L710.3,460.1L708.5,459.6L706.6,460.5L704.7,462.0L702.2,468.7L699.8,465.7L699.2,466.7L698.7,463.9L698.1,463.8L697.6,459.1L697.0,459.1L696.5,456.6L695.9,451.4L695.4,449.4L694.8,445.9L694.2,445.1L693.6,442.6L693.0,442.0L692.3,438.1L691.7,436.7L691.1,432.3L688.3,433.7L685.5,433.7L683.6,437.1L681.6,433.1L679.7,430.2L677.9,433.8L676.0,435.8L674.2,438.8L672.3,437.7L670.5,441.5L668.6,440.8L666.8,439.6L664.5,442.4L662.1,442.6L659.8,440.2L657.4,442.5L655.1,441.4L652.7,440.6L650.4,440.8L648.8,442.4L647.3,436.9L645.7,433.7L643.8,437.7L642.0,440.6L640.1,441.5L638.3,442.0L636.4,442.0L635.5,446.7L634.5,449.0L633.6,452.2L632.6,450.9L631.7,452.5L630.5,453.4L629.4,449.9L628.2,448.2L627.0,448.8L625.8,445.5L624.6,443.9L623.5,443.0L622.3,437.3L620.4,443.3L618.5,442.3L616.7,444.6L614.8,445.4L612.9,444.3L610.6,446.9L608.2,447.8L605.9,446.6L603.5,447.0L601.2,444.3L598.9,445.8L596.5,447.3L594.1,445.2L591.8,440.8L588.9,444.6L586.0,439.6L585.5,442.0L585.0,436.2L584.5,435.4L584.0,434.9L583.5,432.1L583.0,426.2L582.5,423.2L581.3,421.5L580.1,420.7L579.0,416.5L577.8,413.8L575.4,414.3L573.1,412.8L570.8,415.0L568.4,411.0L566.0,415.9L563.7,417.5L561.4,414.8L559.0,415.0Z"/></clipPath>
<g clip-path="url(#sc)">
<g filter="url(#b6)">
<rect x="520" y="270" width="173" height="230" fill="url(#gvL)"/>
<rect x="692" y="270" width="132" height="230" fill="url(#gvM)"/>
<rect x="823" y="270" width="90" height="230" fill="url(#gvR)"/>
</g>
<g filter="url(#b4)">
<polygon points="574,350 582,330 592,328 604,319 622,310 646,298 672,291 683,294 692,312 684,328 664,321 640,329 615,339 594,349 580,360" fill="#f3ecd0"/>
<polygon points="689,342 702,334 746,328 757,323 792,322 792,334 780,345 746,358 704,372 689,374" fill="#f3ecd0"/>
</g>
<polygon points="762,388 823,362 823,402 762,416" fill="#b9daeb" filter="url(#b4)"/>
<path d="M608.7,364.0V391.6M646.8,365.8V385.5M585.4,370.4V395.2M608.4,373.9V404.1M671.0,362.5V397.1M599.7,366.0V406.5M638.4,368.3V403.8M590.7,368.7V402.0M615.3,352.7V393.2M633.2,367.8V408.7M658.3,372.3V400.5M667.3,361.8V404.1M675.4,354.1V375.7M606.6,373.2V402.6M649.2,358.6V389.8M624.1,359.7V392.9M644.8,371.9V407.6M680.6,370.8V414.6M653.8,355.6V396.0M684.3,371.9V404.7M658.2,356.6V396.3M643.6,358.3V377.9M672.8,373.8V394.1M667.3,361.0V383.0M614.6,368.9V409.6M588.6,365.5V384.7M658.7,359.3V400.2M686.0,363.1V407.1M616.2,353.7V387.3M587.3,356.3V384.9M647.5,355.4V374.5M674.2,358.9V401.8M677.3,360.3V390.3M638.1,366.2V399.7M642.2,365.6V408.1M636.7,361.5V398.2M608.7,358.6V402.0M638.2,364.1V382.4M627.2,364.8V383.3M648.0,365.9V385.5M649.2,362.3V397.9M620.7,367.6V404.7M586.3,353.3V388.9M684.2,357.5V387.4M645.6,359.0V386.5M616.5,360.1V393.6" stroke="#9fcbe4" stroke-opacity="0.45" stroke-width="1.4" fill="none"/>
<path d="M715.6,383.3V422.9M695.9,389.1V427.7M716.3,378.7V419.2M711.2,377.6V407.8M744.3,375.1V402.1M718.0,397.0V427.3M755.6,377.1V404.5M740.8,398.5V429.2M710.2,375.6V408.5M707.7,396.2V437.7M707.2,380.4V421.0M740.2,396.2V423.9M703.3,380.8V421.0M713.5,382.4V412.1M724.2,384.3V428.1M705.2,372.1V416.6M757.4,401.6V431.8M762.4,399.8V424.0M747.7,397.1V433.7M731.4,380.7V408.2M710.4,374.0V408.5M714.7,396.3V415.6M759.1,392.8V436.7M758.6,399.0V433.1M694.9,394.4V417.2M715.6,391.9V424.6M723.8,400.2V435.3M718.6,379.6V421.7M728.4,395.5V423.3M708.2,388.0V428.9M706.3,395.8V439.6M752.0,396.7V414.9M739.3,397.9V417.3M713.5,380.1V412.8M724.5,386.2V425.9M694.1,373.6V395.2M703.0,374.1V419.3M755.5,374.6V406.6M716.7,381.4V409.3M740.6,389.6V417.7" stroke="#8fbfe0" stroke-opacity="0.4" stroke-width="1.4" fill="none"/>
<path d="M622.5,413.2V425.7M684.4,422.9V440.5M603.6,409.5V426.9M692.8,424.6V442.2M726.2,420.6V439.2M653.3,417.4V441.5M661.5,422.4V441.6M631.7,418.4V442.3M602.2,415.6V434.1M739.5,428.4V445.9M742.6,424.8V440.0M668.9,408.1V434.3M702.6,427.2V453.0M703.5,423.3V444.6M607.5,419.7V429.8M614.4,424.4V435.2M605.6,407.5V435.1M620.5,405.6V432.4M610.6,426.1V449.6M732.2,428.8V450.4M725.8,405.9V431.3M676.9,422.9V435.0M717.3,428.4V439.6M645.1,419.1V445.7M631.2,409.5V424.5M694.7,423.8V441.7M652.5,414.9V431.9M661.1,407.1V427.1M755.4,415.3V440.3M617.3,422.3V447.4" stroke="#5b84c8" stroke-opacity="0.35" stroke-width="1.6" fill="none"/>
</g>
<path d="M687.3,323.7L822.3,254.8V414.7L687.3,483.7Z" fill="none" stroke="#ff0000" stroke-width="1"/>
<text class="t" x="503.0" y="472.0" text-anchor="middle" fill="#fafac8" textLength="71.9" lengthAdjust="spacingAndGlyphs">13:39:20</text>
<text class="t" x="570.0" y="483.5" text-anchor="middle" fill="#fafac8" textLength="71.9" lengthAdjust="spacingAndGlyphs">13:39:40</text>
<text class="t" x="637.8" y="493.7" text-anchor="middle" fill="#fafac8" textLength="71.9" lengthAdjust="spacingAndGlyphs">13:40:00</text>
<text class="t" x="704.5" y="505.0" text-anchor="middle" fill="#fafac8" textLength="71.9" lengthAdjust="spacingAndGlyphs">13:40:20</text>
<text class="t" x="771.0" y="517.0" text-anchor="middle" fill="#fafac8" textLength="71.9" lengthAdjust="spacingAndGlyphs">13:40:40</text>
<text class="t" x="818.7" y="514.9" text-anchor="middle" fill="#fafac8" textLength="40.8" lengthAdjust="spacingAndGlyphs">1560</text>
<text class="t" x="840.5" y="503.4" text-anchor="middle" fill="#fafac8" textLength="40.8" lengthAdjust="spacingAndGlyphs">1565</text>
<text class="t" x="862.2" y="491.9" text-anchor="middle" fill="#fafac8" textLength="40.8" lengthAdjust="spacingAndGlyphs">1570</text>
<text class="t" x="884.0" y="480.4" text-anchor="middle" fill="#fafac8" textLength="40.8" lengthAdjust="spacingAndGlyphs">1575</text>
<text class="t" x="905.7" y="468.9" text-anchor="middle" fill="#fafac8" textLength="40.8" lengthAdjust="spacingAndGlyphs">1580</text>
<text class="t" x="927.5" y="457.4" text-anchor="middle" fill="#fafac8" textLength="40.8" lengthAdjust="spacingAndGlyphs">1585</text>
<text class="t" x="949.3" y="445.9" text-anchor="middle" fill="#fafac8" textLength="40.8" lengthAdjust="spacingAndGlyphs">1590</text>
<text class="t" x="971.0" y="434.4" text-anchor="middle" fill="#fafac8" textLength="40.8" lengthAdjust="spacingAndGlyphs">1595</text>
<text class="t" x="597.0" y="512.0" text-anchor="middle" fill="#fafac8" textLength="88.5" lengthAdjust="spacingAndGlyphs" transform="rotate(10 597.0 512.0)">Time (UTC)</text>
<text class="t" x="933.0" y="484.0" text-anchor="middle" fill="#fafac8" textLength="134.5" lengthAdjust="spacingAndGlyphs" transform="rotate(-27.5 933.0 484.0)">Frequency (MHz)</text>
<text class="t" x="538.0" y="607.0" text-anchor="middle" fill="#fafac8" textLength="112.3" lengthAdjust="spacingAndGlyphs">Max Rx Power</text>
<text class="t" x="538.0" y="758.0" text-anchor="middle" fill="#fafac8" textLength="88.5" lengthAdjust="spacingAndGlyphs">Time (UTC)</text>
<text class="t" x="20.0" y="670.0" text-anchor="middle" fill="#fafac8" textLength="102.7" lengthAdjust="spacingAndGlyphs" transform="rotate(-90 20.0 670.0)">Power (dBm)</text>
<g stroke="#fafac8" stroke-width="1" fill="none" shape-rendering="crispEdges">
<path d="M315.5,632.5V707.5M540.5,632.5V707.5M765.5,632.5V707.5M90.5,637.5H990.5M90.5,672.5H990.5" stroke="#c4c4c4" stroke-dasharray="2 2"/>
<rect x="90.5" y="632.5" width="900.0" height="75.0"/>
<path d="M90.5,707.5v-7M90.5,632.5v7M202.5,707.5v-4M202.5,632.5v4M315.5,707.5v-7M315.5,632.5v7M427.5,707.5v-4M427.5,632.5v4M540.5,707.5v-7M540.5,632.5v7M653.5,707.5v-4M653.5,632.5v4M765.5,707.5v-7M765.5,632.5v7M878.5,707.5v-4M878.5,632.5v4M991.5,707.5v-7M991.5,632.5v7M90.5,637.5h7M990.5,637.5h-7M90.5,672.5h7M990.5,672.5h-7"/>
</g>
<text class="t" x="77.0" y="641.0" text-anchor="end" fill="#fafac8" textLength="26.2" lengthAdjust="spacingAndGlyphs">-80</text>
<text class="t" x="77.0" y="676.0" text-anchor="end" fill="#fafac8" textLength="36.3" lengthAdjust="spacingAndGlyphs">-100</text>
<text class="t" x="77.0" y="711.0" text-anchor="end" fill="#fafac8" textLength="36.3" lengthAdjust="spacingAndGlyphs">-120</text>
<text class="t" x="90.0" y="730.0" text-anchor="middle" fill="#fafac8" textLength="71.9" lengthAdjust="spacingAndGlyphs">13:39:20</text>
<text class="t" x="315.2" y="730.0" text-anchor="middle" fill="#fafac8" textLength="71.9" lengthAdjust="spacingAndGlyphs">13:39:40</text>
<text class="t" x="540.5" y="730.0" text-anchor="middle" fill="#fafac8" textLength="71.9" lengthAdjust="spacingAndGlyphs">13:40:00</text>
<text class="t" x="765.8" y="730.0" text-anchor="middle" fill="#fafac8" textLength="71.9" lengthAdjust="spacingAndGlyphs">13:40:20</text>
<text class="t" x="991.0" y="730.0" text-anchor="middle" fill="#fafac8" textLength="71.9" lengthAdjust="spacingAndGlyphs">13:40:40</text>
<path d="M191.5,679.5L203.5,661.5L215,659L226,662.5L237.5,660L248.5,665L259,664L270,672.5L281.5,676L293.5,657M314.5,678.5L315.5,678.5M360.5,679.5L371.5,675M394,673.5L395,673.5M416,666L428.5,670.5M450,668L461,670.5L473,666.5L484,666.5L495.5,666.5M529.5,674.5L540.5,673.5L552,669L563.5,670.5L574.5,661L586,651.5L597,659L609,652.5L619.5,657L630.5,656L641.5,650L653.5,670L664.5,678.5M698,665L709.5,679L720.5,673" fill="none" stroke="#ffff00" stroke-width="1" shape-rendering="crispEdges"/>
<path d="M641.5,632.5V707.5" stroke="#ff0000" stroke-width="1" shape-rendering="crispEdges"/>
</svg>
</body></html>
